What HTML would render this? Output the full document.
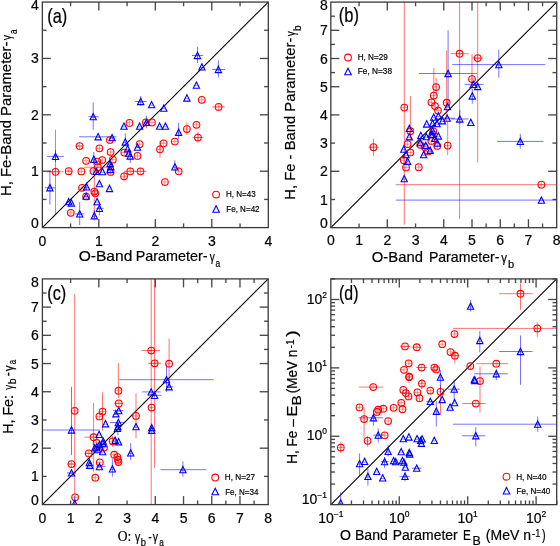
<!DOCTYPE html>
<html><head><meta charset="utf-8"><style>
html,body{margin:0;padding:0;background:#fff;}
body{width:560px;height:546px;overflow:hidden;}
svg{display:block;will-change:transform;}
svg{font-family:"Liberation Sans", sans-serif;}
text{fill:#000;stroke:#000;stroke-width:0.2px;}
.tk{font-size:14px;}
.ti{font-size:14.2px;}
.sub{font-size:10px;}
.sup{font-size:8.5px;}
.lg{font-size:9px;letter-spacing:-0.3px;fill:#222;}
.pl{font-size:19px;}
</style></head><body>
<svg width="560" height="546" viewBox="0 0 560 546">
<rect width="560" height="546" fill="#fff"/>
<line x1="42.35" y1="227.6" x2="268.3" y2="2.05" stroke="#000" stroke-width="1.05"/>
<line x1="330.85" y1="227.7" x2="556.7" y2="2.1" stroke="#000" stroke-width="1.05"/>
<line x1="42.4" y1="504.6" x2="268.2" y2="278.9" stroke="#000" stroke-width="1.05"/>
<line x1="330.85" y1="504.65" x2="556.7" y2="278.9" stroke="#000" stroke-width="1.05"/>
<line x1="70.59" y1="227.6" x2="70.59" y2="223.4" stroke="#4a4a4a" stroke-width="1.35"/>
<line x1="70.59" y1="2.05" x2="70.59" y2="6.25" stroke="#4a4a4a" stroke-width="1.35"/>
<line x1="42.35" y1="199.41" x2="46.55" y2="199.41" stroke="#4a4a4a" stroke-width="1.35"/>
<line x1="268.3" y1="199.41" x2="264.1" y2="199.41" stroke="#4a4a4a" stroke-width="1.35"/>
<line x1="98.84" y1="227.6" x2="98.84" y2="219.1" stroke="#4a4a4a" stroke-width="1.35"/>
<line x1="98.84" y1="2.05" x2="98.84" y2="10.55" stroke="#4a4a4a" stroke-width="1.35"/>
<line x1="42.35" y1="171.21" x2="50.85" y2="171.21" stroke="#4a4a4a" stroke-width="1.35"/>
<line x1="268.3" y1="171.21" x2="259.8" y2="171.21" stroke="#4a4a4a" stroke-width="1.35"/>
<line x1="127.08" y1="227.6" x2="127.08" y2="223.4" stroke="#4a4a4a" stroke-width="1.35"/>
<line x1="127.08" y1="2.05" x2="127.08" y2="6.25" stroke="#4a4a4a" stroke-width="1.35"/>
<line x1="42.35" y1="143.02" x2="46.55" y2="143.02" stroke="#4a4a4a" stroke-width="1.35"/>
<line x1="268.3" y1="143.02" x2="264.1" y2="143.02" stroke="#4a4a4a" stroke-width="1.35"/>
<line x1="155.33" y1="227.6" x2="155.33" y2="219.1" stroke="#4a4a4a" stroke-width="1.35"/>
<line x1="155.33" y1="2.05" x2="155.33" y2="10.55" stroke="#4a4a4a" stroke-width="1.35"/>
<line x1="42.35" y1="114.83" x2="50.85" y2="114.83" stroke="#4a4a4a" stroke-width="1.35"/>
<line x1="268.3" y1="114.83" x2="259.8" y2="114.83" stroke="#4a4a4a" stroke-width="1.35"/>
<line x1="183.57" y1="227.6" x2="183.57" y2="223.4" stroke="#4a4a4a" stroke-width="1.35"/>
<line x1="183.57" y1="2.05" x2="183.57" y2="6.25" stroke="#4a4a4a" stroke-width="1.35"/>
<line x1="42.35" y1="86.63" x2="46.55" y2="86.63" stroke="#4a4a4a" stroke-width="1.35"/>
<line x1="268.3" y1="86.63" x2="264.1" y2="86.63" stroke="#4a4a4a" stroke-width="1.35"/>
<line x1="211.81" y1="227.6" x2="211.81" y2="219.1" stroke="#4a4a4a" stroke-width="1.35"/>
<line x1="211.81" y1="2.05" x2="211.81" y2="10.55" stroke="#4a4a4a" stroke-width="1.35"/>
<line x1="42.35" y1="58.44" x2="50.85" y2="58.44" stroke="#4a4a4a" stroke-width="1.35"/>
<line x1="268.3" y1="58.44" x2="259.8" y2="58.44" stroke="#4a4a4a" stroke-width="1.35"/>
<line x1="240.06" y1="227.6" x2="240.06" y2="223.4" stroke="#4a4a4a" stroke-width="1.35"/>
<line x1="240.06" y1="2.05" x2="240.06" y2="6.25" stroke="#4a4a4a" stroke-width="1.35"/>
<line x1="42.35" y1="30.24" x2="46.55" y2="30.24" stroke="#4a4a4a" stroke-width="1.35"/>
<line x1="268.3" y1="30.24" x2="264.1" y2="30.24" stroke="#4a4a4a" stroke-width="1.35"/>
<line x1="359.08" y1="227.7" x2="359.08" y2="223.5" stroke="#4a4a4a" stroke-width="1.35"/>
<line x1="359.08" y1="2.1" x2="359.08" y2="6.3" stroke="#4a4a4a" stroke-width="1.35"/>
<line x1="330.85" y1="199.5" x2="335.05" y2="199.5" stroke="#4a4a4a" stroke-width="1.35"/>
<line x1="556.7" y1="199.5" x2="552.5" y2="199.5" stroke="#4a4a4a" stroke-width="1.35"/>
<line x1="387.31" y1="227.7" x2="387.31" y2="219.2" stroke="#4a4a4a" stroke-width="1.35"/>
<line x1="387.31" y1="2.1" x2="387.31" y2="10.6" stroke="#4a4a4a" stroke-width="1.35"/>
<line x1="330.85" y1="171.3" x2="339.35" y2="171.3" stroke="#4a4a4a" stroke-width="1.35"/>
<line x1="556.7" y1="171.3" x2="548.2" y2="171.3" stroke="#4a4a4a" stroke-width="1.35"/>
<line x1="415.54" y1="227.7" x2="415.54" y2="223.5" stroke="#4a4a4a" stroke-width="1.35"/>
<line x1="415.54" y1="2.1" x2="415.54" y2="6.3" stroke="#4a4a4a" stroke-width="1.35"/>
<line x1="330.85" y1="143.1" x2="335.05" y2="143.1" stroke="#4a4a4a" stroke-width="1.35"/>
<line x1="556.7" y1="143.1" x2="552.5" y2="143.1" stroke="#4a4a4a" stroke-width="1.35"/>
<line x1="443.78" y1="227.7" x2="443.78" y2="219.2" stroke="#4a4a4a" stroke-width="1.35"/>
<line x1="443.78" y1="2.1" x2="443.78" y2="10.6" stroke="#4a4a4a" stroke-width="1.35"/>
<line x1="330.85" y1="114.9" x2="339.35" y2="114.9" stroke="#4a4a4a" stroke-width="1.35"/>
<line x1="556.7" y1="114.9" x2="548.2" y2="114.9" stroke="#4a4a4a" stroke-width="1.35"/>
<line x1="472.01" y1="227.7" x2="472.01" y2="219.2" stroke="#4a4a4a" stroke-width="1.35"/>
<line x1="472.01" y1="2.1" x2="472.01" y2="10.6" stroke="#4a4a4a" stroke-width="1.35"/>
<line x1="330.85" y1="86.7" x2="339.35" y2="86.7" stroke="#4a4a4a" stroke-width="1.35"/>
<line x1="556.7" y1="86.7" x2="548.2" y2="86.7" stroke="#4a4a4a" stroke-width="1.35"/>
<line x1="486.12" y1="227.7" x2="486.12" y2="223.5" stroke="#4a4a4a" stroke-width="1.35"/>
<line x1="486.12" y1="2.1" x2="486.12" y2="6.3" stroke="#4a4a4a" stroke-width="1.35"/>
<line x1="330.85" y1="72.6" x2="335.05" y2="72.6" stroke="#4a4a4a" stroke-width="1.35"/>
<line x1="556.7" y1="72.6" x2="552.5" y2="72.6" stroke="#4a4a4a" stroke-width="1.35"/>
<line x1="500.24" y1="227.7" x2="500.24" y2="219.2" stroke="#4a4a4a" stroke-width="1.35"/>
<line x1="500.24" y1="2.1" x2="500.24" y2="10.6" stroke="#4a4a4a" stroke-width="1.35"/>
<line x1="330.85" y1="58.5" x2="339.35" y2="58.5" stroke="#4a4a4a" stroke-width="1.35"/>
<line x1="556.7" y1="58.5" x2="548.2" y2="58.5" stroke="#4a4a4a" stroke-width="1.35"/>
<line x1="514.35" y1="227.7" x2="514.35" y2="223.5" stroke="#4a4a4a" stroke-width="1.35"/>
<line x1="514.35" y1="2.1" x2="514.35" y2="6.3" stroke="#4a4a4a" stroke-width="1.35"/>
<line x1="330.85" y1="44.4" x2="335.05" y2="44.4" stroke="#4a4a4a" stroke-width="1.35"/>
<line x1="556.7" y1="44.4" x2="552.5" y2="44.4" stroke="#4a4a4a" stroke-width="1.35"/>
<line x1="528.47" y1="227.7" x2="528.47" y2="219.2" stroke="#4a4a4a" stroke-width="1.35"/>
<line x1="528.47" y1="2.1" x2="528.47" y2="10.6" stroke="#4a4a4a" stroke-width="1.35"/>
<line x1="330.85" y1="30.3" x2="339.35" y2="30.3" stroke="#4a4a4a" stroke-width="1.35"/>
<line x1="556.7" y1="30.3" x2="548.2" y2="30.3" stroke="#4a4a4a" stroke-width="1.35"/>
<line x1="542.58" y1="227.7" x2="542.58" y2="223.5" stroke="#4a4a4a" stroke-width="1.35"/>
<line x1="542.58" y1="2.1" x2="542.58" y2="6.3" stroke="#4a4a4a" stroke-width="1.35"/>
<line x1="330.85" y1="16.2" x2="335.05" y2="16.2" stroke="#4a4a4a" stroke-width="1.35"/>
<line x1="556.7" y1="16.2" x2="552.5" y2="16.2" stroke="#4a4a4a" stroke-width="1.35"/>
<line x1="70.62" y1="504.6" x2="70.62" y2="500.4" stroke="#4a4a4a" stroke-width="1.35"/>
<line x1="70.62" y1="278.9" x2="70.62" y2="283.1" stroke="#4a4a4a" stroke-width="1.35"/>
<line x1="42.4" y1="476.39" x2="46.6" y2="476.39" stroke="#4a4a4a" stroke-width="1.35"/>
<line x1="268.2" y1="476.39" x2="264" y2="476.39" stroke="#4a4a4a" stroke-width="1.35"/>
<line x1="98.85" y1="504.6" x2="98.85" y2="496.1" stroke="#4a4a4a" stroke-width="1.35"/>
<line x1="98.85" y1="278.9" x2="98.85" y2="287.4" stroke="#4a4a4a" stroke-width="1.35"/>
<line x1="42.4" y1="448.18" x2="50.9" y2="448.18" stroke="#4a4a4a" stroke-width="1.35"/>
<line x1="268.2" y1="448.18" x2="259.7" y2="448.18" stroke="#4a4a4a" stroke-width="1.35"/>
<line x1="127.07" y1="504.6" x2="127.07" y2="500.4" stroke="#4a4a4a" stroke-width="1.35"/>
<line x1="127.07" y1="278.9" x2="127.07" y2="283.1" stroke="#4a4a4a" stroke-width="1.35"/>
<line x1="42.4" y1="419.96" x2="46.6" y2="419.96" stroke="#4a4a4a" stroke-width="1.35"/>
<line x1="268.2" y1="419.96" x2="264" y2="419.96" stroke="#4a4a4a" stroke-width="1.35"/>
<line x1="155.3" y1="504.6" x2="155.3" y2="496.1" stroke="#4a4a4a" stroke-width="1.35"/>
<line x1="155.3" y1="278.9" x2="155.3" y2="287.4" stroke="#4a4a4a" stroke-width="1.35"/>
<line x1="42.4" y1="391.75" x2="50.9" y2="391.75" stroke="#4a4a4a" stroke-width="1.35"/>
<line x1="268.2" y1="391.75" x2="259.7" y2="391.75" stroke="#4a4a4a" stroke-width="1.35"/>
<line x1="183.53" y1="504.6" x2="183.53" y2="496.1" stroke="#4a4a4a" stroke-width="1.35"/>
<line x1="183.53" y1="278.9" x2="183.53" y2="287.4" stroke="#4a4a4a" stroke-width="1.35"/>
<line x1="42.4" y1="363.54" x2="50.9" y2="363.54" stroke="#4a4a4a" stroke-width="1.35"/>
<line x1="268.2" y1="363.54" x2="259.7" y2="363.54" stroke="#4a4a4a" stroke-width="1.35"/>
<line x1="197.64" y1="504.6" x2="197.64" y2="500.4" stroke="#4a4a4a" stroke-width="1.35"/>
<line x1="197.64" y1="278.9" x2="197.64" y2="283.1" stroke="#4a4a4a" stroke-width="1.35"/>
<line x1="42.4" y1="349.43" x2="46.6" y2="349.43" stroke="#4a4a4a" stroke-width="1.35"/>
<line x1="268.2" y1="349.43" x2="264" y2="349.43" stroke="#4a4a4a" stroke-width="1.35"/>
<line x1="211.75" y1="504.6" x2="211.75" y2="496.1" stroke="#4a4a4a" stroke-width="1.35"/>
<line x1="211.75" y1="278.9" x2="211.75" y2="287.4" stroke="#4a4a4a" stroke-width="1.35"/>
<line x1="42.4" y1="335.32" x2="50.9" y2="335.32" stroke="#4a4a4a" stroke-width="1.35"/>
<line x1="268.2" y1="335.32" x2="259.7" y2="335.32" stroke="#4a4a4a" stroke-width="1.35"/>
<line x1="225.86" y1="504.6" x2="225.86" y2="500.4" stroke="#4a4a4a" stroke-width="1.35"/>
<line x1="225.86" y1="278.9" x2="225.86" y2="283.1" stroke="#4a4a4a" stroke-width="1.35"/>
<line x1="42.4" y1="321.22" x2="46.6" y2="321.22" stroke="#4a4a4a" stroke-width="1.35"/>
<line x1="268.2" y1="321.22" x2="264" y2="321.22" stroke="#4a4a4a" stroke-width="1.35"/>
<line x1="239.97" y1="504.6" x2="239.97" y2="496.1" stroke="#4a4a4a" stroke-width="1.35"/>
<line x1="239.97" y1="278.9" x2="239.97" y2="287.4" stroke="#4a4a4a" stroke-width="1.35"/>
<line x1="42.4" y1="307.11" x2="50.9" y2="307.11" stroke="#4a4a4a" stroke-width="1.35"/>
<line x1="268.2" y1="307.11" x2="259.7" y2="307.11" stroke="#4a4a4a" stroke-width="1.35"/>
<line x1="254.09" y1="504.6" x2="254.09" y2="500.4" stroke="#4a4a4a" stroke-width="1.35"/>
<line x1="254.09" y1="278.9" x2="254.09" y2="283.1" stroke="#4a4a4a" stroke-width="1.35"/>
<line x1="42.4" y1="293.01" x2="46.6" y2="293.01" stroke="#4a4a4a" stroke-width="1.35"/>
<line x1="268.2" y1="293.01" x2="264" y2="293.01" stroke="#4a4a4a" stroke-width="1.35"/>
<line x1="351.45" y1="504.65" x2="351.45" y2="500.45" stroke="#4a4a4a" stroke-width="1.35"/>
<line x1="351.45" y1="278.9" x2="351.45" y2="283.1" stroke="#4a4a4a" stroke-width="1.35"/>
<line x1="330.85" y1="484.06" x2="335.05" y2="484.06" stroke="#4a4a4a" stroke-width="1.35"/>
<line x1="556.7" y1="484.06" x2="552.5" y2="484.06" stroke="#4a4a4a" stroke-width="1.35"/>
<line x1="363.49" y1="504.65" x2="363.49" y2="500.45" stroke="#4a4a4a" stroke-width="1.35"/>
<line x1="363.49" y1="278.9" x2="363.49" y2="283.1" stroke="#4a4a4a" stroke-width="1.35"/>
<line x1="330.85" y1="472.02" x2="335.05" y2="472.02" stroke="#4a4a4a" stroke-width="1.35"/>
<line x1="556.7" y1="472.02" x2="552.5" y2="472.02" stroke="#4a4a4a" stroke-width="1.35"/>
<line x1="372.04" y1="504.65" x2="372.04" y2="500.45" stroke="#4a4a4a" stroke-width="1.35"/>
<line x1="372.04" y1="278.9" x2="372.04" y2="283.1" stroke="#4a4a4a" stroke-width="1.35"/>
<line x1="330.85" y1="463.48" x2="335.05" y2="463.48" stroke="#4a4a4a" stroke-width="1.35"/>
<line x1="556.7" y1="463.48" x2="552.5" y2="463.48" stroke="#4a4a4a" stroke-width="1.35"/>
<line x1="378.67" y1="504.65" x2="378.67" y2="500.45" stroke="#4a4a4a" stroke-width="1.35"/>
<line x1="378.67" y1="278.9" x2="378.67" y2="283.1" stroke="#4a4a4a" stroke-width="1.35"/>
<line x1="330.85" y1="456.85" x2="335.05" y2="456.85" stroke="#4a4a4a" stroke-width="1.35"/>
<line x1="556.7" y1="456.85" x2="552.5" y2="456.85" stroke="#4a4a4a" stroke-width="1.35"/>
<line x1="384.09" y1="504.65" x2="384.09" y2="500.45" stroke="#4a4a4a" stroke-width="1.35"/>
<line x1="384.09" y1="278.9" x2="384.09" y2="283.1" stroke="#4a4a4a" stroke-width="1.35"/>
<line x1="330.85" y1="451.43" x2="335.05" y2="451.43" stroke="#4a4a4a" stroke-width="1.35"/>
<line x1="556.7" y1="451.43" x2="552.5" y2="451.43" stroke="#4a4a4a" stroke-width="1.35"/>
<line x1="388.67" y1="504.65" x2="388.67" y2="500.45" stroke="#4a4a4a" stroke-width="1.35"/>
<line x1="388.67" y1="278.9" x2="388.67" y2="283.1" stroke="#4a4a4a" stroke-width="1.35"/>
<line x1="330.85" y1="446.86" x2="335.05" y2="446.86" stroke="#4a4a4a" stroke-width="1.35"/>
<line x1="556.7" y1="446.86" x2="552.5" y2="446.86" stroke="#4a4a4a" stroke-width="1.35"/>
<line x1="392.64" y1="504.65" x2="392.64" y2="500.45" stroke="#4a4a4a" stroke-width="1.35"/>
<line x1="392.64" y1="278.9" x2="392.64" y2="283.1" stroke="#4a4a4a" stroke-width="1.35"/>
<line x1="330.85" y1="442.89" x2="335.05" y2="442.89" stroke="#4a4a4a" stroke-width="1.35"/>
<line x1="556.7" y1="442.89" x2="552.5" y2="442.89" stroke="#4a4a4a" stroke-width="1.35"/>
<line x1="396.14" y1="504.65" x2="396.14" y2="500.45" stroke="#4a4a4a" stroke-width="1.35"/>
<line x1="396.14" y1="278.9" x2="396.14" y2="283.1" stroke="#4a4a4a" stroke-width="1.35"/>
<line x1="330.85" y1="439.39" x2="335.05" y2="439.39" stroke="#4a4a4a" stroke-width="1.35"/>
<line x1="556.7" y1="439.39" x2="552.5" y2="439.39" stroke="#4a4a4a" stroke-width="1.35"/>
<line x1="399.27" y1="504.65" x2="399.27" y2="496.15" stroke="#4a4a4a" stroke-width="1.35"/>
<line x1="399.27" y1="278.9" x2="399.27" y2="287.4" stroke="#4a4a4a" stroke-width="1.35"/>
<line x1="330.85" y1="436.26" x2="339.35" y2="436.26" stroke="#4a4a4a" stroke-width="1.35"/>
<line x1="556.7" y1="436.26" x2="548.2" y2="436.26" stroke="#4a4a4a" stroke-width="1.35"/>
<line x1="419.86" y1="504.65" x2="419.86" y2="500.45" stroke="#4a4a4a" stroke-width="1.35"/>
<line x1="419.86" y1="278.9" x2="419.86" y2="283.1" stroke="#4a4a4a" stroke-width="1.35"/>
<line x1="330.85" y1="415.68" x2="335.05" y2="415.68" stroke="#4a4a4a" stroke-width="1.35"/>
<line x1="556.7" y1="415.68" x2="552.5" y2="415.68" stroke="#4a4a4a" stroke-width="1.35"/>
<line x1="431.91" y1="504.65" x2="431.91" y2="500.45" stroke="#4a4a4a" stroke-width="1.35"/>
<line x1="431.91" y1="278.9" x2="431.91" y2="283.1" stroke="#4a4a4a" stroke-width="1.35"/>
<line x1="330.85" y1="403.63" x2="335.05" y2="403.63" stroke="#4a4a4a" stroke-width="1.35"/>
<line x1="556.7" y1="403.63" x2="552.5" y2="403.63" stroke="#4a4a4a" stroke-width="1.35"/>
<line x1="440.46" y1="504.65" x2="440.46" y2="500.45" stroke="#4a4a4a" stroke-width="1.35"/>
<line x1="440.46" y1="278.9" x2="440.46" y2="283.1" stroke="#4a4a4a" stroke-width="1.35"/>
<line x1="330.85" y1="395.09" x2="335.05" y2="395.09" stroke="#4a4a4a" stroke-width="1.35"/>
<line x1="556.7" y1="395.09" x2="552.5" y2="395.09" stroke="#4a4a4a" stroke-width="1.35"/>
<line x1="447.09" y1="504.65" x2="447.09" y2="500.45" stroke="#4a4a4a" stroke-width="1.35"/>
<line x1="447.09" y1="278.9" x2="447.09" y2="283.1" stroke="#4a4a4a" stroke-width="1.35"/>
<line x1="330.85" y1="388.46" x2="335.05" y2="388.46" stroke="#4a4a4a" stroke-width="1.35"/>
<line x1="556.7" y1="388.46" x2="552.5" y2="388.46" stroke="#4a4a4a" stroke-width="1.35"/>
<line x1="452.51" y1="504.65" x2="452.51" y2="500.45" stroke="#4a4a4a" stroke-width="1.35"/>
<line x1="452.51" y1="278.9" x2="452.51" y2="283.1" stroke="#4a4a4a" stroke-width="1.35"/>
<line x1="330.85" y1="383.05" x2="335.05" y2="383.05" stroke="#4a4a4a" stroke-width="1.35"/>
<line x1="556.7" y1="383.05" x2="552.5" y2="383.05" stroke="#4a4a4a" stroke-width="1.35"/>
<line x1="457.09" y1="504.65" x2="457.09" y2="500.45" stroke="#4a4a4a" stroke-width="1.35"/>
<line x1="457.09" y1="278.9" x2="457.09" y2="283.1" stroke="#4a4a4a" stroke-width="1.35"/>
<line x1="330.85" y1="378.47" x2="335.05" y2="378.47" stroke="#4a4a4a" stroke-width="1.35"/>
<line x1="556.7" y1="378.47" x2="552.5" y2="378.47" stroke="#4a4a4a" stroke-width="1.35"/>
<line x1="461.06" y1="504.65" x2="461.06" y2="500.45" stroke="#4a4a4a" stroke-width="1.35"/>
<line x1="461.06" y1="278.9" x2="461.06" y2="283.1" stroke="#4a4a4a" stroke-width="1.35"/>
<line x1="330.85" y1="374.5" x2="335.05" y2="374.5" stroke="#4a4a4a" stroke-width="1.35"/>
<line x1="556.7" y1="374.5" x2="552.5" y2="374.5" stroke="#4a4a4a" stroke-width="1.35"/>
<line x1="464.56" y1="504.65" x2="464.56" y2="500.45" stroke="#4a4a4a" stroke-width="1.35"/>
<line x1="464.56" y1="278.9" x2="464.56" y2="283.1" stroke="#4a4a4a" stroke-width="1.35"/>
<line x1="330.85" y1="371" x2="335.05" y2="371" stroke="#4a4a4a" stroke-width="1.35"/>
<line x1="556.7" y1="371" x2="552.5" y2="371" stroke="#4a4a4a" stroke-width="1.35"/>
<line x1="467.69" y1="504.65" x2="467.69" y2="496.15" stroke="#4a4a4a" stroke-width="1.35"/>
<line x1="467.69" y1="278.9" x2="467.69" y2="287.4" stroke="#4a4a4a" stroke-width="1.35"/>
<line x1="330.85" y1="367.87" x2="339.35" y2="367.87" stroke="#4a4a4a" stroke-width="1.35"/>
<line x1="556.7" y1="367.87" x2="548.2" y2="367.87" stroke="#4a4a4a" stroke-width="1.35"/>
<line x1="488.28" y1="504.65" x2="488.28" y2="500.45" stroke="#4a4a4a" stroke-width="1.35"/>
<line x1="488.28" y1="278.9" x2="488.28" y2="283.1" stroke="#4a4a4a" stroke-width="1.35"/>
<line x1="330.85" y1="347.29" x2="335.05" y2="347.29" stroke="#4a4a4a" stroke-width="1.35"/>
<line x1="556.7" y1="347.29" x2="552.5" y2="347.29" stroke="#4a4a4a" stroke-width="1.35"/>
<line x1="500.33" y1="504.65" x2="500.33" y2="500.45" stroke="#4a4a4a" stroke-width="1.35"/>
<line x1="500.33" y1="278.9" x2="500.33" y2="283.1" stroke="#4a4a4a" stroke-width="1.35"/>
<line x1="330.85" y1="335.25" x2="335.05" y2="335.25" stroke="#4a4a4a" stroke-width="1.35"/>
<line x1="556.7" y1="335.25" x2="552.5" y2="335.25" stroke="#4a4a4a" stroke-width="1.35"/>
<line x1="508.88" y1="504.65" x2="508.88" y2="500.45" stroke="#4a4a4a" stroke-width="1.35"/>
<line x1="508.88" y1="278.9" x2="508.88" y2="283.1" stroke="#4a4a4a" stroke-width="1.35"/>
<line x1="330.85" y1="326.7" x2="335.05" y2="326.7" stroke="#4a4a4a" stroke-width="1.35"/>
<line x1="556.7" y1="326.7" x2="552.5" y2="326.7" stroke="#4a4a4a" stroke-width="1.35"/>
<line x1="515.51" y1="504.65" x2="515.51" y2="500.45" stroke="#4a4a4a" stroke-width="1.35"/>
<line x1="515.51" y1="278.9" x2="515.51" y2="283.1" stroke="#4a4a4a" stroke-width="1.35"/>
<line x1="330.85" y1="320.07" x2="335.05" y2="320.07" stroke="#4a4a4a" stroke-width="1.35"/>
<line x1="556.7" y1="320.07" x2="552.5" y2="320.07" stroke="#4a4a4a" stroke-width="1.35"/>
<line x1="520.93" y1="504.65" x2="520.93" y2="500.45" stroke="#4a4a4a" stroke-width="1.35"/>
<line x1="520.93" y1="278.9" x2="520.93" y2="283.1" stroke="#4a4a4a" stroke-width="1.35"/>
<line x1="330.85" y1="314.66" x2="335.05" y2="314.66" stroke="#4a4a4a" stroke-width="1.35"/>
<line x1="556.7" y1="314.66" x2="552.5" y2="314.66" stroke="#4a4a4a" stroke-width="1.35"/>
<line x1="525.51" y1="504.65" x2="525.51" y2="500.45" stroke="#4a4a4a" stroke-width="1.35"/>
<line x1="525.51" y1="278.9" x2="525.51" y2="283.1" stroke="#4a4a4a" stroke-width="1.35"/>
<line x1="330.85" y1="310.08" x2="335.05" y2="310.08" stroke="#4a4a4a" stroke-width="1.35"/>
<line x1="556.7" y1="310.08" x2="552.5" y2="310.08" stroke="#4a4a4a" stroke-width="1.35"/>
<line x1="529.47" y1="504.65" x2="529.47" y2="500.45" stroke="#4a4a4a" stroke-width="1.35"/>
<line x1="529.47" y1="278.9" x2="529.47" y2="283.1" stroke="#4a4a4a" stroke-width="1.35"/>
<line x1="330.85" y1="306.11" x2="335.05" y2="306.11" stroke="#4a4a4a" stroke-width="1.35"/>
<line x1="556.7" y1="306.11" x2="552.5" y2="306.11" stroke="#4a4a4a" stroke-width="1.35"/>
<line x1="532.97" y1="504.65" x2="532.97" y2="500.45" stroke="#4a4a4a" stroke-width="1.35"/>
<line x1="532.97" y1="278.9" x2="532.97" y2="283.1" stroke="#4a4a4a" stroke-width="1.35"/>
<line x1="330.85" y1="302.62" x2="335.05" y2="302.62" stroke="#4a4a4a" stroke-width="1.35"/>
<line x1="556.7" y1="302.62" x2="552.5" y2="302.62" stroke="#4a4a4a" stroke-width="1.35"/>
<line x1="536.1" y1="504.65" x2="536.1" y2="496.15" stroke="#4a4a4a" stroke-width="1.35"/>
<line x1="536.1" y1="278.9" x2="536.1" y2="287.4" stroke="#4a4a4a" stroke-width="1.35"/>
<line x1="330.85" y1="299.49" x2="339.35" y2="299.49" stroke="#4a4a4a" stroke-width="1.35"/>
<line x1="556.7" y1="299.49" x2="548.2" y2="299.49" stroke="#4a4a4a" stroke-width="1.35"/>
<line x1="556.7" y1="504.65" x2="556.7" y2="500.45" stroke="#4a4a4a" stroke-width="1.35"/>
<line x1="556.7" y1="278.9" x2="556.7" y2="283.1" stroke="#4a4a4a" stroke-width="1.35"/>
<line x1="330.85" y1="278.9" x2="335.05" y2="278.9" stroke="#4a4a4a" stroke-width="1.35"/>
<line x1="556.7" y1="278.9" x2="552.5" y2="278.9" stroke="#4a4a4a" stroke-width="1.35"/>
<defs>
<clipPath id="cpa"><rect x="42.35" y="2.05" width="225.95" height="225.55"/></clipPath>
<clipPath id="cpb"><rect x="330.85" y="2.1" width="225.85" height="225.6"/></clipPath>
<clipPath id="cpc"><rect x="42.4" y="278.9" width="225.8" height="225.7"/></clipPath>
<clipPath id="cpd"><rect x="330.85" y="278.9" width="225.85" height="225.75"/></clipPath>
</defs>
<g clip-path="url(#cpa)">
<line x1="47.1" y1="171.8" x2="63.8" y2="171.8" stroke="#ff0000" stroke-width="1.0" stroke-opacity="0.55"/>
<line x1="55.5" y1="129.7" x2="55.5" y2="213.9" stroke="#ff0000" stroke-width="1.0" stroke-opacity="0.55"/>
<line x1="65" y1="171.2" x2="72.5" y2="171.2" stroke="#ff0000" stroke-width="1.0" stroke-opacity="0.55"/>
<line x1="75.3" y1="146" x2="83.6" y2="146" stroke="#ff0000" stroke-width="1.0" stroke-opacity="0.55"/>
<line x1="94.3" y1="176" x2="94.3" y2="218" stroke="#ff0000" stroke-width="1.0" stroke-opacity="0.55"/>
<line x1="124" y1="171.3" x2="136" y2="171.3" stroke="#ff0000" stroke-width="1.0" stroke-opacity="0.55"/>
<line x1="134.7" y1="171.3" x2="146.3" y2="171.3" stroke="#ff0000" stroke-width="1.0" stroke-opacity="0.55"/>
<line x1="124.1" y1="171.9" x2="124.1" y2="181.2" stroke="#ff0000" stroke-width="1.0" stroke-opacity="0.55"/>
<line x1="160" y1="141" x2="160" y2="157.6" stroke="#ff0000" stroke-width="1.0" stroke-opacity="0.55"/>
<line x1="186.9" y1="122.4" x2="186.9" y2="135" stroke="#ff0000" stroke-width="1.0" stroke-opacity="0.55"/>
<line x1="192.4" y1="137.5" x2="203.4" y2="137.5" stroke="#ff0000" stroke-width="1.0" stroke-opacity="0.55"/>
<line x1="197.9" y1="132" x2="197.9" y2="142.7" stroke="#ff0000" stroke-width="1.0" stroke-opacity="0.55"/>
<line x1="212.2" y1="106.9" x2="224.8" y2="106.9" stroke="#ff0000" stroke-width="1.0" stroke-opacity="0.55"/>
<line x1="84" y1="167.2" x2="112" y2="167.2" stroke="#ff0000" stroke-width="1.0" stroke-opacity="0.55"/>
<line x1="88.5" y1="116.7" x2="98.7" y2="116.7" stroke="#0000ff" stroke-width="1.0" stroke-opacity="0.55"/>
<line x1="93.2" y1="102.6" x2="93.2" y2="129.7" stroke="#0000ff" stroke-width="1.0" stroke-opacity="0.55"/>
<line x1="79.1" y1="136.8" x2="116.5" y2="136.8" stroke="#0000ff" stroke-width="1.0" stroke-opacity="0.55"/>
<line x1="47.1" y1="156.4" x2="63.8" y2="156.4" stroke="#0000ff" stroke-width="1.0" stroke-opacity="0.55"/>
<line x1="55.5" y1="150" x2="55.5" y2="162" stroke="#0000ff" stroke-width="1.0" stroke-opacity="0.55"/>
<line x1="45" y1="187.8" x2="55.5" y2="187.8" stroke="#0000ff" stroke-width="1.0" stroke-opacity="0.55"/>
<line x1="49.9" y1="170.5" x2="49.9" y2="204.7" stroke="#0000ff" stroke-width="1.0" stroke-opacity="0.55"/>
<line x1="93.8" y1="152" x2="93.8" y2="165" stroke="#0000ff" stroke-width="1.0" stroke-opacity="0.55"/>
<line x1="86.6" y1="182.3" x2="86.6" y2="190" stroke="#0000ff" stroke-width="1.0" stroke-opacity="0.55"/>
<line x1="96.2" y1="208.4" x2="103.5" y2="208.4" stroke="#0000ff" stroke-width="1.0" stroke-opacity="0.55"/>
<line x1="99.4" y1="202.5" x2="99.4" y2="215.3" stroke="#0000ff" stroke-width="1.0" stroke-opacity="0.55"/>
<line x1="75.1" y1="213.9" x2="84.3" y2="213.9" stroke="#0000ff" stroke-width="1.0" stroke-opacity="0.55"/>
<line x1="79.7" y1="202" x2="79.7" y2="225" stroke="#0000ff" stroke-width="1.0" stroke-opacity="0.55"/>
<line x1="94.3" y1="210" x2="94.3" y2="220.3" stroke="#0000ff" stroke-width="1.0" stroke-opacity="0.55"/>
<line x1="135.2" y1="101.5" x2="146.7" y2="101.5" stroke="#0000ff" stroke-width="1.0" stroke-opacity="0.55"/>
<line x1="140.7" y1="96" x2="140.7" y2="105.9" stroke="#0000ff" stroke-width="1.0" stroke-opacity="0.55"/>
<line x1="146.4" y1="115.8" x2="146.4" y2="128.4" stroke="#0000ff" stroke-width="1.0" stroke-opacity="0.55"/>
<line x1="125.3" y1="133.4" x2="125.3" y2="146" stroke="#0000ff" stroke-width="1.0" stroke-opacity="0.55"/>
<line x1="130.3" y1="150" x2="130.3" y2="163" stroke="#0000ff" stroke-width="1.0" stroke-opacity="0.55"/>
<line x1="174.9" y1="160.3" x2="174.9" y2="170" stroke="#0000ff" stroke-width="1.0" stroke-opacity="0.55"/>
<line x1="178.6" y1="122.9" x2="178.6" y2="139.4" stroke="#0000ff" stroke-width="1.0" stroke-opacity="0.55"/>
<line x1="192" y1="55.5" x2="203" y2="55.5" stroke="#0000ff" stroke-width="1.0" stroke-opacity="0.55"/>
<line x1="197.5" y1="46.8" x2="197.5" y2="63.1" stroke="#0000ff" stroke-width="1.0" stroke-opacity="0.55"/>
<line x1="212.3" y1="69.5" x2="225" y2="69.5" stroke="#0000ff" stroke-width="1.0" stroke-opacity="0.55"/>
<line x1="218.4" y1="60.3" x2="218.4" y2="77.4" stroke="#0000ff" stroke-width="1.0" stroke-opacity="0.55"/>
<circle cx="55.5" cy="171.8" r="3.35" fill="none" stroke="#ff0000" stroke-width="1.05"/>
<line x1="52.2" y1="171.8" x2="58.8" y2="171.8" stroke="#ff0000" stroke-width="0.8" stroke-opacity="0.5"/>
<line x1="55.5" y1="168.5" x2="55.5" y2="175.1" stroke="#ff0000" stroke-width="0.8" stroke-opacity="0.5"/>
<circle cx="68.7" cy="171.2" r="3.35" fill="none" stroke="#ff0000" stroke-width="1.05"/>
<line x1="65.4" y1="171.2" x2="72" y2="171.2" stroke="#ff0000" stroke-width="0.8" stroke-opacity="0.5"/>
<line x1="68.7" y1="167.9" x2="68.7" y2="174.5" stroke="#ff0000" stroke-width="0.8" stroke-opacity="0.5"/>
<circle cx="81.4" cy="171.4" r="3.35" fill="none" stroke="#ff0000" stroke-width="1.05"/>
<line x1="78.1" y1="171.4" x2="84.7" y2="171.4" stroke="#ff0000" stroke-width="0.8" stroke-opacity="0.5"/>
<line x1="81.4" y1="168.1" x2="81.4" y2="174.7" stroke="#ff0000" stroke-width="0.8" stroke-opacity="0.5"/>
<circle cx="93.4" cy="171.1" r="3.35" fill="none" stroke="#ff0000" stroke-width="1.05"/>
<line x1="90.1" y1="171.1" x2="96.7" y2="171.1" stroke="#ff0000" stroke-width="0.8" stroke-opacity="0.5"/>
<line x1="93.4" y1="167.8" x2="93.4" y2="174.4" stroke="#ff0000" stroke-width="0.8" stroke-opacity="0.5"/>
<circle cx="79.6" cy="146" r="3.35" fill="none" stroke="#ff0000" stroke-width="1.05"/>
<line x1="76.3" y1="146" x2="82.9" y2="146" stroke="#ff0000" stroke-width="0.8" stroke-opacity="0.5"/>
<line x1="79.6" y1="142.7" x2="79.6" y2="149.3" stroke="#ff0000" stroke-width="0.8" stroke-opacity="0.5"/>
<circle cx="99.4" cy="148.3" r="3.35" fill="none" stroke="#ff0000" stroke-width="1.05"/>
<line x1="96.1" y1="148.3" x2="102.7" y2="148.3" stroke="#ff0000" stroke-width="0.8" stroke-opacity="0.5"/>
<line x1="99.4" y1="145" x2="99.4" y2="151.6" stroke="#ff0000" stroke-width="0.8" stroke-opacity="0.5"/>
<circle cx="110.6" cy="152" r="3.35" fill="none" stroke="#ff0000" stroke-width="1.05"/>
<line x1="107.3" y1="152" x2="113.9" y2="152" stroke="#ff0000" stroke-width="0.8" stroke-opacity="0.5"/>
<line x1="110.6" y1="148.7" x2="110.6" y2="155.3" stroke="#ff0000" stroke-width="0.8" stroke-opacity="0.5"/>
<circle cx="86.1" cy="160.8" r="3.35" fill="none" stroke="#ff0000" stroke-width="1.05"/>
<line x1="82.8" y1="160.8" x2="89.4" y2="160.8" stroke="#ff0000" stroke-width="0.8" stroke-opacity="0.5"/>
<line x1="86.1" y1="157.5" x2="86.1" y2="164.1" stroke="#ff0000" stroke-width="0.8" stroke-opacity="0.5"/>
<circle cx="102.2" cy="160" r="3.35" fill="none" stroke="#ff0000" stroke-width="1.05"/>
<line x1="98.9" y1="160" x2="105.5" y2="160" stroke="#ff0000" stroke-width="0.8" stroke-opacity="0.5"/>
<line x1="102.2" y1="156.7" x2="102.2" y2="163.3" stroke="#ff0000" stroke-width="0.8" stroke-opacity="0.5"/>
<circle cx="112.8" cy="159.7" r="3.35" fill="none" stroke="#ff0000" stroke-width="1.05"/>
<line x1="109.5" y1="159.7" x2="116.1" y2="159.7" stroke="#ff0000" stroke-width="0.8" stroke-opacity="0.5"/>
<line x1="112.8" y1="156.4" x2="112.8" y2="163" stroke="#ff0000" stroke-width="0.8" stroke-opacity="0.5"/>
<circle cx="110.6" cy="172" r="3.35" fill="none" stroke="#ff0000" stroke-width="1.05"/>
<line x1="107.3" y1="172" x2="113.9" y2="172" stroke="#ff0000" stroke-width="0.8" stroke-opacity="0.5"/>
<line x1="110.6" y1="168.7" x2="110.6" y2="175.3" stroke="#ff0000" stroke-width="0.8" stroke-opacity="0.5"/>
<circle cx="82" cy="187.8" r="3.35" fill="none" stroke="#ff0000" stroke-width="1.05"/>
<line x1="78.7" y1="187.8" x2="85.3" y2="187.8" stroke="#ff0000" stroke-width="0.8" stroke-opacity="0.5"/>
<line x1="82" y1="184.5" x2="82" y2="191.1" stroke="#ff0000" stroke-width="0.8" stroke-opacity="0.5"/>
<circle cx="86.1" cy="196.5" r="3.35" fill="none" stroke="#ff0000" stroke-width="1.05"/>
<line x1="82.8" y1="196.5" x2="89.4" y2="196.5" stroke="#ff0000" stroke-width="0.8" stroke-opacity="0.5"/>
<line x1="86.1" y1="193.2" x2="86.1" y2="199.8" stroke="#ff0000" stroke-width="0.8" stroke-opacity="0.5"/>
<circle cx="94.3" cy="191.5" r="3.35" fill="none" stroke="#ff0000" stroke-width="1.05"/>
<line x1="91" y1="191.5" x2="97.6" y2="191.5" stroke="#ff0000" stroke-width="0.8" stroke-opacity="0.5"/>
<line x1="94.3" y1="188.2" x2="94.3" y2="194.8" stroke="#ff0000" stroke-width="0.8" stroke-opacity="0.5"/>
<circle cx="95.3" cy="193.3" r="3.35" fill="none" stroke="#ff0000" stroke-width="1.05"/>
<line x1="92" y1="193.3" x2="98.6" y2="193.3" stroke="#ff0000" stroke-width="0.8" stroke-opacity="0.5"/>
<line x1="95.3" y1="190" x2="95.3" y2="196.6" stroke="#ff0000" stroke-width="0.8" stroke-opacity="0.5"/>
<circle cx="70.8" cy="212.8" r="3.35" fill="none" stroke="#ff0000" stroke-width="1.05"/>
<line x1="67.5" y1="212.8" x2="74.1" y2="212.8" stroke="#ff0000" stroke-width="0.8" stroke-opacity="0.5"/>
<line x1="70.8" y1="209.5" x2="70.8" y2="216.1" stroke="#ff0000" stroke-width="0.8" stroke-opacity="0.5"/>
<circle cx="109.9" cy="140" r="3.35" fill="none" stroke="#ff0000" stroke-width="1.05"/>
<line x1="106.6" y1="140" x2="113.2" y2="140" stroke="#ff0000" stroke-width="0.8" stroke-opacity="0.5"/>
<line x1="109.9" y1="136.7" x2="109.9" y2="143.3" stroke="#ff0000" stroke-width="0.8" stroke-opacity="0.5"/>
<circle cx="129.5" cy="122.9" r="3.35" fill="none" stroke="#ff0000" stroke-width="1.05"/>
<line x1="126.2" y1="122.9" x2="132.8" y2="122.9" stroke="#ff0000" stroke-width="0.8" stroke-opacity="0.5"/>
<line x1="129.5" y1="119.6" x2="129.5" y2="126.2" stroke="#ff0000" stroke-width="0.8" stroke-opacity="0.5"/>
<circle cx="145.9" cy="122.4" r="3.35" fill="none" stroke="#ff0000" stroke-width="1.05"/>
<line x1="142.6" y1="122.4" x2="149.2" y2="122.4" stroke="#ff0000" stroke-width="0.8" stroke-opacity="0.5"/>
<line x1="145.9" y1="119.1" x2="145.9" y2="125.7" stroke="#ff0000" stroke-width="0.8" stroke-opacity="0.5"/>
<circle cx="151.9" cy="122.4" r="3.35" fill="none" stroke="#ff0000" stroke-width="1.05"/>
<line x1="148.6" y1="122.4" x2="155.2" y2="122.4" stroke="#ff0000" stroke-width="0.8" stroke-opacity="0.5"/>
<line x1="151.9" y1="119.1" x2="151.9" y2="125.7" stroke="#ff0000" stroke-width="0.8" stroke-opacity="0.5"/>
<circle cx="139.6" cy="144.2" r="3.35" fill="none" stroke="#ff0000" stroke-width="1.05"/>
<line x1="136.3" y1="144.2" x2="142.9" y2="144.2" stroke="#ff0000" stroke-width="0.8" stroke-opacity="0.5"/>
<line x1="139.6" y1="140.9" x2="139.6" y2="147.5" stroke="#ff0000" stroke-width="0.8" stroke-opacity="0.5"/>
<circle cx="124.3" cy="152.6" r="3.35" fill="none" stroke="#ff0000" stroke-width="1.05"/>
<line x1="121" y1="152.6" x2="127.6" y2="152.6" stroke="#ff0000" stroke-width="0.8" stroke-opacity="0.5"/>
<line x1="124.3" y1="149.3" x2="124.3" y2="155.9" stroke="#ff0000" stroke-width="0.8" stroke-opacity="0.5"/>
<circle cx="137.5" cy="155.9" r="3.35" fill="none" stroke="#ff0000" stroke-width="1.05"/>
<line x1="134.2" y1="155.9" x2="140.8" y2="155.9" stroke="#ff0000" stroke-width="0.8" stroke-opacity="0.5"/>
<line x1="137.5" y1="152.6" x2="137.5" y2="159.2" stroke="#ff0000" stroke-width="0.8" stroke-opacity="0.5"/>
<circle cx="130.3" cy="171.3" r="3.35" fill="none" stroke="#ff0000" stroke-width="1.05"/>
<line x1="127" y1="171.3" x2="133.6" y2="171.3" stroke="#ff0000" stroke-width="0.8" stroke-opacity="0.5"/>
<line x1="130.3" y1="168" x2="130.3" y2="174.6" stroke="#ff0000" stroke-width="0.8" stroke-opacity="0.5"/>
<circle cx="140.5" cy="171.3" r="3.35" fill="none" stroke="#ff0000" stroke-width="1.05"/>
<line x1="137.2" y1="171.3" x2="143.8" y2="171.3" stroke="#ff0000" stroke-width="0.8" stroke-opacity="0.5"/>
<line x1="140.5" y1="168" x2="140.5" y2="174.6" stroke="#ff0000" stroke-width="0.8" stroke-opacity="0.5"/>
<circle cx="124.1" cy="176.3" r="3.35" fill="none" stroke="#ff0000" stroke-width="1.05"/>
<line x1="120.8" y1="176.3" x2="127.4" y2="176.3" stroke="#ff0000" stroke-width="0.8" stroke-opacity="0.5"/>
<line x1="124.1" y1="173" x2="124.1" y2="179.6" stroke="#ff0000" stroke-width="0.8" stroke-opacity="0.5"/>
<circle cx="163.6" cy="143.3" r="3.35" fill="none" stroke="#ff0000" stroke-width="1.05"/>
<line x1="160.3" y1="143.3" x2="166.9" y2="143.3" stroke="#ff0000" stroke-width="0.8" stroke-opacity="0.5"/>
<line x1="163.6" y1="140" x2="163.6" y2="146.6" stroke="#ff0000" stroke-width="0.8" stroke-opacity="0.5"/>
<circle cx="160" cy="149.3" r="3.35" fill="none" stroke="#ff0000" stroke-width="1.05"/>
<line x1="156.7" y1="149.3" x2="163.3" y2="149.3" stroke="#ff0000" stroke-width="0.8" stroke-opacity="0.5"/>
<line x1="160" y1="146" x2="160" y2="152.6" stroke="#ff0000" stroke-width="0.8" stroke-opacity="0.5"/>
<circle cx="164.9" cy="182" r="3.35" fill="none" stroke="#ff0000" stroke-width="1.05"/>
<line x1="161.6" y1="182" x2="168.2" y2="182" stroke="#ff0000" stroke-width="0.8" stroke-opacity="0.5"/>
<line x1="164.9" y1="178.7" x2="164.9" y2="185.3" stroke="#ff0000" stroke-width="0.8" stroke-opacity="0.5"/>
<circle cx="174.8" cy="141.5" r="3.35" fill="none" stroke="#ff0000" stroke-width="1.05"/>
<line x1="171.5" y1="141.5" x2="178.1" y2="141.5" stroke="#ff0000" stroke-width="0.8" stroke-opacity="0.5"/>
<line x1="174.8" y1="138.2" x2="174.8" y2="144.8" stroke="#ff0000" stroke-width="0.8" stroke-opacity="0.5"/>
<circle cx="178.7" cy="171.3" r="3.35" fill="none" stroke="#ff0000" stroke-width="1.05"/>
<line x1="175.4" y1="171.3" x2="182" y2="171.3" stroke="#ff0000" stroke-width="0.8" stroke-opacity="0.5"/>
<line x1="178.7" y1="168" x2="178.7" y2="174.6" stroke="#ff0000" stroke-width="0.8" stroke-opacity="0.5"/>
<circle cx="186.9" cy="129" r="3.35" fill="none" stroke="#ff0000" stroke-width="1.05"/>
<line x1="183.6" y1="129" x2="190.2" y2="129" stroke="#ff0000" stroke-width="0.8" stroke-opacity="0.5"/>
<line x1="186.9" y1="125.7" x2="186.9" y2="132.3" stroke="#ff0000" stroke-width="0.8" stroke-opacity="0.5"/>
<circle cx="196.5" cy="124.8" r="3.35" fill="none" stroke="#ff0000" stroke-width="1.05"/>
<line x1="193.2" y1="124.8" x2="199.8" y2="124.8" stroke="#ff0000" stroke-width="0.8" stroke-opacity="0.5"/>
<line x1="196.5" y1="121.5" x2="196.5" y2="128.1" stroke="#ff0000" stroke-width="0.8" stroke-opacity="0.5"/>
<circle cx="197.9" cy="137.5" r="3.35" fill="none" stroke="#ff0000" stroke-width="1.05"/>
<line x1="194.6" y1="137.5" x2="201.2" y2="137.5" stroke="#ff0000" stroke-width="0.8" stroke-opacity="0.5"/>
<line x1="197.9" y1="134.2" x2="197.9" y2="140.8" stroke="#ff0000" stroke-width="0.8" stroke-opacity="0.5"/>
<circle cx="201.8" cy="99.8" r="3.35" fill="none" stroke="#ff0000" stroke-width="1.05"/>
<line x1="198.5" y1="99.8" x2="205.1" y2="99.8" stroke="#ff0000" stroke-width="0.8" stroke-opacity="0.5"/>
<line x1="201.8" y1="96.5" x2="201.8" y2="103.1" stroke="#ff0000" stroke-width="0.8" stroke-opacity="0.5"/>
<circle cx="218.6" cy="106.9" r="3.35" fill="none" stroke="#ff0000" stroke-width="1.05"/>
<line x1="215.3" y1="106.9" x2="221.9" y2="106.9" stroke="#ff0000" stroke-width="0.8" stroke-opacity="0.5"/>
<line x1="218.6" y1="103.6" x2="218.6" y2="110.2" stroke="#ff0000" stroke-width="0.8" stroke-opacity="0.5"/>
<circle cx="97.8" cy="167.2" r="3.35" fill="none" stroke="#ff0000" stroke-width="1.05"/>
<line x1="94.5" y1="167.2" x2="101.1" y2="167.2" stroke="#ff0000" stroke-width="0.8" stroke-opacity="0.5"/>
<line x1="97.8" y1="163.9" x2="97.8" y2="170.5" stroke="#ff0000" stroke-width="0.8" stroke-opacity="0.5"/>
<circle cx="97.3" cy="161.5" r="3.35" fill="none" stroke="#ff0000" stroke-width="1.05"/>
<line x1="94" y1="161.5" x2="100.6" y2="161.5" stroke="#ff0000" stroke-width="0.8" stroke-opacity="0.5"/>
<line x1="97.3" y1="158.2" x2="97.3" y2="164.8" stroke="#ff0000" stroke-width="0.8" stroke-opacity="0.5"/>
<polygon points="90.05,119.8 93.2,113.5 96.35,119.8" fill="none" stroke="#0000ff" stroke-width="1.1" stroke-linejoin="miter"/>
<line x1="91" y1="117.3" x2="95.4" y2="117.3" stroke="#0000ff" stroke-width="0.8" stroke-opacity="0.5"/>
<polygon points="94.95,139.9 98.1,133.6 101.25,139.9" fill="none" stroke="#0000ff" stroke-width="1.1" stroke-linejoin="miter"/>
<line x1="95.9" y1="137.4" x2="100.3" y2="137.4" stroke="#0000ff" stroke-width="0.8" stroke-opacity="0.5"/>
<polygon points="108.95,140.8 112.1,134.5 115.25,140.8" fill="none" stroke="#0000ff" stroke-width="1.1" stroke-linejoin="miter"/>
<line x1="109.9" y1="138.3" x2="114.3" y2="138.3" stroke="#0000ff" stroke-width="0.8" stroke-opacity="0.5"/>
<polygon points="52.35,159.5 55.5,153.2 58.65,159.5" fill="none" stroke="#0000ff" stroke-width="1.1" stroke-linejoin="miter"/>
<line x1="53.3" y1="157" x2="57.7" y2="157" stroke="#0000ff" stroke-width="0.8" stroke-opacity="0.5"/>
<polygon points="46.75,190.9 49.9,184.6 53.05,190.9" fill="none" stroke="#0000ff" stroke-width="1.1" stroke-linejoin="miter"/>
<line x1="47.7" y1="188.4" x2="52.1" y2="188.4" stroke="#0000ff" stroke-width="0.8" stroke-opacity="0.5"/>
<polygon points="90.65,162.4 93.8,156.1 96.95,162.4" fill="none" stroke="#0000ff" stroke-width="1.1" stroke-linejoin="miter"/>
<line x1="91.6" y1="159.9" x2="96" y2="159.9" stroke="#0000ff" stroke-width="0.8" stroke-opacity="0.5"/>
<polygon points="107.05,166.6 110.2,160.3 113.35,166.6" fill="none" stroke="#0000ff" stroke-width="1.1" stroke-linejoin="miter"/>
<line x1="108" y1="164.1" x2="112.4" y2="164.1" stroke="#0000ff" stroke-width="0.8" stroke-opacity="0.5"/>
<polygon points="107.65,169.6 110.8,163.3 113.95,169.6" fill="none" stroke="#0000ff" stroke-width="1.1" stroke-linejoin="miter"/>
<line x1="108.6" y1="167.1" x2="113" y2="167.1" stroke="#0000ff" stroke-width="0.8" stroke-opacity="0.5"/>
<polygon points="93.15,174.5 96.3,168.2 99.45,174.5" fill="none" stroke="#0000ff" stroke-width="1.1" stroke-linejoin="miter"/>
<line x1="94.1" y1="172" x2="98.5" y2="172" stroke="#0000ff" stroke-width="0.8" stroke-opacity="0.5"/>
<polygon points="99.35,174.8 102.5,168.5 105.65,174.8" fill="none" stroke="#0000ff" stroke-width="1.1" stroke-linejoin="miter"/>
<line x1="100.3" y1="172.3" x2="104.7" y2="172.3" stroke="#0000ff" stroke-width="0.8" stroke-opacity="0.5"/>
<polygon points="107.05,172.6 110.2,166.3 113.35,172.6" fill="none" stroke="#0000ff" stroke-width="1.1" stroke-linejoin="miter"/>
<line x1="108" y1="170.1" x2="112.4" y2="170.1" stroke="#0000ff" stroke-width="0.8" stroke-opacity="0.5"/>
<polygon points="96.25,186.8 99.4,180.5 102.55,186.8" fill="none" stroke="#0000ff" stroke-width="1.1" stroke-linejoin="miter"/>
<line x1="97.2" y1="184.3" x2="101.6" y2="184.3" stroke="#0000ff" stroke-width="0.8" stroke-opacity="0.5"/>
<polygon points="83.45,190 86.6,183.7 89.75,190" fill="none" stroke="#0000ff" stroke-width="1.1" stroke-linejoin="miter"/>
<line x1="84.4" y1="187.5" x2="88.8" y2="187.5" stroke="#0000ff" stroke-width="0.8" stroke-opacity="0.5"/>
<polygon points="82.95,199.2 86.1,192.9 89.25,199.2" fill="none" stroke="#0000ff" stroke-width="1.1" stroke-linejoin="miter"/>
<line x1="83.9" y1="196.7" x2="88.3" y2="196.7" stroke="#0000ff" stroke-width="0.8" stroke-opacity="0.5"/>
<polygon points="65.55,204.7 68.7,198.4 71.85,204.7" fill="none" stroke="#0000ff" stroke-width="1.1" stroke-linejoin="miter"/>
<line x1="66.5" y1="202.2" x2="70.9" y2="202.2" stroke="#0000ff" stroke-width="0.8" stroke-opacity="0.5"/>
<polygon points="68.25,206.1 71.4,199.8 74.55,206.1" fill="none" stroke="#0000ff" stroke-width="1.1" stroke-linejoin="miter"/>
<line x1="69.2" y1="203.6" x2="73.6" y2="203.6" stroke="#0000ff" stroke-width="0.8" stroke-opacity="0.5"/>
<polygon points="93.95,204.7 97.1,198.4 100.25,204.7" fill="none" stroke="#0000ff" stroke-width="1.1" stroke-linejoin="miter"/>
<line x1="94.9" y1="202.2" x2="99.3" y2="202.2" stroke="#0000ff" stroke-width="0.8" stroke-opacity="0.5"/>
<polygon points="96.25,211.5 99.4,205.2 102.55,211.5" fill="none" stroke="#0000ff" stroke-width="1.1" stroke-linejoin="miter"/>
<line x1="97.2" y1="209" x2="101.6" y2="209" stroke="#0000ff" stroke-width="0.8" stroke-opacity="0.5"/>
<polygon points="76.55,217 79.7,210.7 82.85,217" fill="none" stroke="#0000ff" stroke-width="1.1" stroke-linejoin="miter"/>
<line x1="77.5" y1="214.5" x2="81.9" y2="214.5" stroke="#0000ff" stroke-width="0.8" stroke-opacity="0.5"/>
<polygon points="91.15,218.9 94.3,212.6 97.45,218.9" fill="none" stroke="#0000ff" stroke-width="1.1" stroke-linejoin="miter"/>
<line x1="92.1" y1="216.4" x2="96.5" y2="216.4" stroke="#0000ff" stroke-width="0.8" stroke-opacity="0.5"/>
<polygon points="106.35,191.6 109.5,185.3 112.65,191.6" fill="none" stroke="#0000ff" stroke-width="1.1" stroke-linejoin="miter"/>
<line x1="107.3" y1="189.1" x2="111.7" y2="189.1" stroke="#0000ff" stroke-width="0.8" stroke-opacity="0.5"/>
<polygon points="137.55,104.6 140.7,98.3 143.85,104.6" fill="none" stroke="#0000ff" stroke-width="1.1" stroke-linejoin="miter"/>
<line x1="138.5" y1="102.1" x2="142.9" y2="102.1" stroke="#0000ff" stroke-width="0.8" stroke-opacity="0.5"/>
<polygon points="148.45,107.7 151.6,101.4 154.75,107.7" fill="none" stroke="#0000ff" stroke-width="1.1" stroke-linejoin="miter"/>
<line x1="149.4" y1="105.2" x2="153.8" y2="105.2" stroke="#0000ff" stroke-width="0.8" stroke-opacity="0.5"/>
<polygon points="120.85,129.3 124,123 127.15,129.3" fill="none" stroke="#0000ff" stroke-width="1.1" stroke-linejoin="miter"/>
<line x1="121.8" y1="126.8" x2="126.2" y2="126.8" stroke="#0000ff" stroke-width="0.8" stroke-opacity="0.5"/>
<polygon points="136.45,129.3 139.6,123 142.75,129.3" fill="none" stroke="#0000ff" stroke-width="1.1" stroke-linejoin="miter"/>
<line x1="137.4" y1="126.8" x2="141.8" y2="126.8" stroke="#0000ff" stroke-width="0.8" stroke-opacity="0.5"/>
<polygon points="143.25,125.5 146.4,119.2 149.55,125.5" fill="none" stroke="#0000ff" stroke-width="1.1" stroke-linejoin="miter"/>
<line x1="144.2" y1="123" x2="148.6" y2="123" stroke="#0000ff" stroke-width="0.8" stroke-opacity="0.5"/>
<polygon points="156.45,129.3 159.6,123 162.75,129.3" fill="none" stroke="#0000ff" stroke-width="1.1" stroke-linejoin="miter"/>
<line x1="157.4" y1="126.8" x2="161.8" y2="126.8" stroke="#0000ff" stroke-width="0.8" stroke-opacity="0.5"/>
<polygon points="162.25,129.3 165.4,123 168.55,129.3" fill="none" stroke="#0000ff" stroke-width="1.1" stroke-linejoin="miter"/>
<line x1="163.2" y1="126.8" x2="167.6" y2="126.8" stroke="#0000ff" stroke-width="0.8" stroke-opacity="0.5"/>
<polygon points="160.65,111.2 163.8,104.9 166.95,111.2" fill="none" stroke="#0000ff" stroke-width="1.1" stroke-linejoin="miter"/>
<line x1="161.6" y1="108.7" x2="166" y2="108.7" stroke="#0000ff" stroke-width="0.8" stroke-opacity="0.5"/>
<polygon points="122.15,145.1 125.3,138.8 128.45,145.1" fill="none" stroke="#0000ff" stroke-width="1.1" stroke-linejoin="miter"/>
<line x1="123.1" y1="142.6" x2="127.5" y2="142.6" stroke="#0000ff" stroke-width="0.8" stroke-opacity="0.5"/>
<polygon points="134.35,150.2 137.5,143.9 140.65,150.2" fill="none" stroke="#0000ff" stroke-width="1.1" stroke-linejoin="miter"/>
<line x1="135.3" y1="147.7" x2="139.7" y2="147.7" stroke="#0000ff" stroke-width="0.8" stroke-opacity="0.5"/>
<polygon points="124.45,151.9 127.6,145.6 130.75,151.9" fill="none" stroke="#0000ff" stroke-width="1.1" stroke-linejoin="miter"/>
<line x1="125.4" y1="149.4" x2="129.8" y2="149.4" stroke="#0000ff" stroke-width="0.8" stroke-opacity="0.5"/>
<polygon points="125.55,156.3 128.7,150 131.85,156.3" fill="none" stroke="#0000ff" stroke-width="1.1" stroke-linejoin="miter"/>
<line x1="126.5" y1="153.8" x2="130.9" y2="153.8" stroke="#0000ff" stroke-width="0.8" stroke-opacity="0.5"/>
<polygon points="127.15,159.1 130.3,152.8 133.45,159.1" fill="none" stroke="#0000ff" stroke-width="1.1" stroke-linejoin="miter"/>
<line x1="128.1" y1="156.6" x2="132.5" y2="156.6" stroke="#0000ff" stroke-width="0.8" stroke-opacity="0.5"/>
<polygon points="171.75,170 174.9,163.7 178.05,170" fill="none" stroke="#0000ff" stroke-width="1.1" stroke-linejoin="miter"/>
<line x1="172.7" y1="167.5" x2="177.1" y2="167.5" stroke="#0000ff" stroke-width="0.8" stroke-opacity="0.5"/>
<polygon points="175.45,135.4 178.6,129.1 181.75,135.4" fill="none" stroke="#0000ff" stroke-width="1.1" stroke-linejoin="miter"/>
<line x1="176.4" y1="132.9" x2="180.8" y2="132.9" stroke="#0000ff" stroke-width="0.8" stroke-opacity="0.5"/>
<polygon points="183.75,101.1 186.9,94.8 190.05,101.1" fill="none" stroke="#0000ff" stroke-width="1.1" stroke-linejoin="miter"/>
<line x1="184.7" y1="98.6" x2="189.1" y2="98.6" stroke="#0000ff" stroke-width="0.8" stroke-opacity="0.5"/>
<polygon points="193.25,88.2 196.4,81.9 199.55,88.2" fill="none" stroke="#0000ff" stroke-width="1.1" stroke-linejoin="miter"/>
<line x1="194.2" y1="85.7" x2="198.6" y2="85.7" stroke="#0000ff" stroke-width="0.8" stroke-opacity="0.5"/>
<polygon points="194.35,58.6 197.5,52.3 200.65,58.6" fill="none" stroke="#0000ff" stroke-width="1.1" stroke-linejoin="miter"/>
<line x1="195.3" y1="56.1" x2="199.7" y2="56.1" stroke="#0000ff" stroke-width="0.8" stroke-opacity="0.5"/>
<polygon points="198.75,70 201.9,63.7 205.05,70" fill="none" stroke="#0000ff" stroke-width="1.1" stroke-linejoin="miter"/>
<line x1="199.7" y1="67.5" x2="204.1" y2="67.5" stroke="#0000ff" stroke-width="0.8" stroke-opacity="0.5"/>
<polygon points="215.25,72.6 218.4,66.3 221.55,72.6" fill="none" stroke="#0000ff" stroke-width="1.1" stroke-linejoin="miter"/>
<line x1="216.2" y1="70.1" x2="220.6" y2="70.1" stroke="#0000ff" stroke-width="0.8" stroke-opacity="0.5"/>
</g>
<g clip-path="url(#cpb)">
<line x1="404.3" y1="2" x2="404.3" y2="224.7" stroke="#ff0000" stroke-width="1.0" stroke-opacity="0.55"/>
<line x1="368.4" y1="147.2" x2="378.6" y2="147.2" stroke="#ff0000" stroke-width="1.0" stroke-opacity="0.55"/>
<line x1="373.5" y1="138.8" x2="373.5" y2="155.7" stroke="#ff0000" stroke-width="1.0" stroke-opacity="0.55"/>
<line x1="436.1" y1="78" x2="436.1" y2="95" stroke="#ff0000" stroke-width="1.0" stroke-opacity="0.55"/>
<line x1="433.8" y1="68" x2="433.8" y2="100" stroke="#ff0000" stroke-width="1.0" stroke-opacity="0.55"/>
<line x1="446.7" y1="50.4" x2="446.7" y2="121" stroke="#ff0000" stroke-width="1.0" stroke-opacity="0.55"/>
<line x1="450.4" y1="53.7" x2="468.6" y2="53.7" stroke="#ff0000" stroke-width="1.0" stroke-opacity="0.55"/>
<line x1="459.6" y1="2" x2="459.6" y2="218.9" stroke="#ff0000" stroke-width="1.0" stroke-opacity="0.55"/>
<line x1="472.3" y1="58.1" x2="483.3" y2="58.1" stroke="#ff0000" stroke-width="1.0" stroke-opacity="0.55"/>
<line x1="477.7" y1="2" x2="477.7" y2="162.5" stroke="#ff0000" stroke-width="1.0" stroke-opacity="0.55"/>
<line x1="472" y1="54" x2="472" y2="90" stroke="#ff0000" stroke-width="1.0" stroke-opacity="0.55"/>
<line x1="410.4" y1="96" x2="410.4" y2="140" stroke="#ff0000" stroke-width="1.0" stroke-opacity="0.55"/>
<line x1="447.7" y1="121.8" x2="447.7" y2="155.3" stroke="#ff0000" stroke-width="1.0" stroke-opacity="0.55"/>
<line x1="395.8" y1="184.7" x2="556.7" y2="184.7" stroke="#ff0000" stroke-width="1.0" stroke-opacity="0.55"/>
<line x1="440" y1="118.2" x2="455" y2="118.2" stroke="#0000ff" stroke-width="1.0" stroke-opacity="0.55"/>
<line x1="419" y1="73.5" x2="477" y2="73.5" stroke="#0000ff" stroke-width="1.0" stroke-opacity="0.55"/>
<line x1="448.1" y1="30.2" x2="448.1" y2="105" stroke="#0000ff" stroke-width="1.0" stroke-opacity="0.55"/>
<line x1="452.2" y1="64.6" x2="545.4" y2="64.6" stroke="#0000ff" stroke-width="1.0" stroke-opacity="0.55"/>
<line x1="498.8" y1="49.8" x2="498.8" y2="77.7" stroke="#0000ff" stroke-width="1.0" stroke-opacity="0.55"/>
<line x1="464.6" y1="84.4" x2="483.8" y2="84.4" stroke="#0000ff" stroke-width="1.0" stroke-opacity="0.55"/>
<line x1="472.3" y1="89.2" x2="472.3" y2="103.7" stroke="#0000ff" stroke-width="1.0" stroke-opacity="0.55"/>
<line x1="451" y1="119" x2="468.5" y2="119" stroke="#0000ff" stroke-width="1.0" stroke-opacity="0.55"/>
<line x1="459.8" y1="110" x2="459.8" y2="124" stroke="#0000ff" stroke-width="1.0" stroke-opacity="0.55"/>
<line x1="497.1" y1="141.4" x2="543.4" y2="141.4" stroke="#0000ff" stroke-width="1.0" stroke-opacity="0.55"/>
<line x1="520.3" y1="133.8" x2="520.3" y2="148.7" stroke="#0000ff" stroke-width="1.0" stroke-opacity="0.55"/>
<line x1="395.8" y1="200.1" x2="556.7" y2="200.1" stroke="#0000ff" stroke-width="1.0" stroke-opacity="0.55"/>
<circle cx="404.3" cy="107.6" r="3.35" fill="none" stroke="#ff0000" stroke-width="1.05"/>
<line x1="401" y1="107.6" x2="407.6" y2="107.6" stroke="#ff0000" stroke-width="0.8" stroke-opacity="0.5"/>
<line x1="404.3" y1="104.3" x2="404.3" y2="110.9" stroke="#ff0000" stroke-width="0.8" stroke-opacity="0.5"/>
<circle cx="373.5" cy="147.2" r="3.35" fill="none" stroke="#ff0000" stroke-width="1.05"/>
<line x1="370.2" y1="147.2" x2="376.8" y2="147.2" stroke="#ff0000" stroke-width="0.8" stroke-opacity="0.5"/>
<line x1="373.5" y1="143.9" x2="373.5" y2="150.5" stroke="#ff0000" stroke-width="0.8" stroke-opacity="0.5"/>
<circle cx="436.1" cy="87" r="3.35" fill="none" stroke="#ff0000" stroke-width="1.05"/>
<line x1="432.8" y1="87" x2="439.4" y2="87" stroke="#ff0000" stroke-width="0.8" stroke-opacity="0.5"/>
<line x1="436.1" y1="83.7" x2="436.1" y2="90.3" stroke="#ff0000" stroke-width="0.8" stroke-opacity="0.5"/>
<circle cx="433.8" cy="95.6" r="3.35" fill="none" stroke="#ff0000" stroke-width="1.05"/>
<line x1="430.5" y1="95.6" x2="437.1" y2="95.6" stroke="#ff0000" stroke-width="0.8" stroke-opacity="0.5"/>
<line x1="433.8" y1="92.3" x2="433.8" y2="98.9" stroke="#ff0000" stroke-width="0.8" stroke-opacity="0.5"/>
<circle cx="431.4" cy="102.3" r="3.35" fill="none" stroke="#ff0000" stroke-width="1.05"/>
<line x1="428.1" y1="102.3" x2="434.7" y2="102.3" stroke="#ff0000" stroke-width="0.8" stroke-opacity="0.5"/>
<line x1="431.4" y1="99" x2="431.4" y2="105.6" stroke="#ff0000" stroke-width="0.8" stroke-opacity="0.5"/>
<circle cx="435" cy="106" r="3.35" fill="none" stroke="#ff0000" stroke-width="1.05"/>
<line x1="431.7" y1="106" x2="438.3" y2="106" stroke="#ff0000" stroke-width="0.8" stroke-opacity="0.5"/>
<line x1="435" y1="102.7" x2="435" y2="109.3" stroke="#ff0000" stroke-width="0.8" stroke-opacity="0.5"/>
<circle cx="438" cy="110.6" r="3.35" fill="none" stroke="#ff0000" stroke-width="1.05"/>
<line x1="434.7" y1="110.6" x2="441.3" y2="110.6" stroke="#ff0000" stroke-width="0.8" stroke-opacity="0.5"/>
<line x1="438" y1="107.3" x2="438" y2="113.9" stroke="#ff0000" stroke-width="0.8" stroke-opacity="0.5"/>
<circle cx="446.7" cy="102.7" r="3.35" fill="none" stroke="#ff0000" stroke-width="1.05"/>
<line x1="443.4" y1="102.7" x2="450" y2="102.7" stroke="#ff0000" stroke-width="0.8" stroke-opacity="0.5"/>
<line x1="446.7" y1="99.4" x2="446.7" y2="106" stroke="#ff0000" stroke-width="0.8" stroke-opacity="0.5"/>
<circle cx="459.6" cy="53.7" r="3.35" fill="none" stroke="#ff0000" stroke-width="1.05"/>
<line x1="456.3" y1="53.7" x2="462.9" y2="53.7" stroke="#ff0000" stroke-width="0.8" stroke-opacity="0.5"/>
<line x1="459.6" y1="50.4" x2="459.6" y2="57" stroke="#ff0000" stroke-width="0.8" stroke-opacity="0.5"/>
<circle cx="477.7" cy="58.1" r="3.35" fill="none" stroke="#ff0000" stroke-width="1.05"/>
<line x1="474.4" y1="58.1" x2="481" y2="58.1" stroke="#ff0000" stroke-width="0.8" stroke-opacity="0.5"/>
<line x1="477.7" y1="54.8" x2="477.7" y2="61.4" stroke="#ff0000" stroke-width="0.8" stroke-opacity="0.5"/>
<circle cx="472" cy="79" r="3.35" fill="none" stroke="#ff0000" stroke-width="1.05"/>
<line x1="468.7" y1="79" x2="475.3" y2="79" stroke="#ff0000" stroke-width="0.8" stroke-opacity="0.5"/>
<line x1="472" y1="75.7" x2="472" y2="82.3" stroke="#ff0000" stroke-width="0.8" stroke-opacity="0.5"/>
<circle cx="410.4" cy="131.2" r="3.35" fill="none" stroke="#ff0000" stroke-width="1.05"/>
<line x1="407.1" y1="131.2" x2="413.7" y2="131.2" stroke="#ff0000" stroke-width="0.8" stroke-opacity="0.5"/>
<line x1="410.4" y1="127.9" x2="410.4" y2="134.5" stroke="#ff0000" stroke-width="0.8" stroke-opacity="0.5"/>
<circle cx="407.6" cy="144.1" r="3.35" fill="none" stroke="#ff0000" stroke-width="1.05"/>
<line x1="404.3" y1="144.1" x2="410.9" y2="144.1" stroke="#ff0000" stroke-width="0.8" stroke-opacity="0.5"/>
<line x1="407.6" y1="140.8" x2="407.6" y2="147.4" stroke="#ff0000" stroke-width="0.8" stroke-opacity="0.5"/>
<circle cx="410.4" cy="152.5" r="3.35" fill="none" stroke="#ff0000" stroke-width="1.05"/>
<line x1="407.1" y1="152.5" x2="413.7" y2="152.5" stroke="#ff0000" stroke-width="0.8" stroke-opacity="0.5"/>
<line x1="410.4" y1="149.2" x2="410.4" y2="155.8" stroke="#ff0000" stroke-width="0.8" stroke-opacity="0.5"/>
<circle cx="403.8" cy="160.2" r="3.35" fill="none" stroke="#ff0000" stroke-width="1.05"/>
<line x1="400.5" y1="160.2" x2="407.1" y2="160.2" stroke="#ff0000" stroke-width="0.8" stroke-opacity="0.5"/>
<line x1="403.8" y1="156.9" x2="403.8" y2="163.5" stroke="#ff0000" stroke-width="0.8" stroke-opacity="0.5"/>
<circle cx="406" cy="167.4" r="3.35" fill="none" stroke="#ff0000" stroke-width="1.05"/>
<line x1="402.7" y1="167.4" x2="409.3" y2="167.4" stroke="#ff0000" stroke-width="0.8" stroke-opacity="0.5"/>
<line x1="406" y1="164.1" x2="406" y2="170.7" stroke="#ff0000" stroke-width="0.8" stroke-opacity="0.5"/>
<circle cx="418.7" cy="167.2" r="3.35" fill="none" stroke="#ff0000" stroke-width="1.05"/>
<line x1="415.4" y1="167.2" x2="422" y2="167.2" stroke="#ff0000" stroke-width="0.8" stroke-opacity="0.5"/>
<line x1="418.7" y1="163.9" x2="418.7" y2="170.5" stroke="#ff0000" stroke-width="0.8" stroke-opacity="0.5"/>
<circle cx="433.3" cy="131.4" r="3.35" fill="none" stroke="#ff0000" stroke-width="1.05"/>
<line x1="430" y1="131.4" x2="436.6" y2="131.4" stroke="#ff0000" stroke-width="0.8" stroke-opacity="0.5"/>
<line x1="433.3" y1="128.1" x2="433.3" y2="134.7" stroke="#ff0000" stroke-width="0.8" stroke-opacity="0.5"/>
<circle cx="420.3" cy="144.8" r="3.35" fill="none" stroke="#ff0000" stroke-width="1.05"/>
<line x1="417" y1="144.8" x2="423.6" y2="144.8" stroke="#ff0000" stroke-width="0.8" stroke-opacity="0.5"/>
<line x1="420.3" y1="141.5" x2="420.3" y2="148.1" stroke="#ff0000" stroke-width="0.8" stroke-opacity="0.5"/>
<circle cx="424.7" cy="147" r="3.35" fill="none" stroke="#ff0000" stroke-width="1.05"/>
<line x1="421.4" y1="147" x2="428" y2="147" stroke="#ff0000" stroke-width="0.8" stroke-opacity="0.5"/>
<line x1="424.7" y1="143.7" x2="424.7" y2="150.3" stroke="#ff0000" stroke-width="0.8" stroke-opacity="0.5"/>
<circle cx="428" cy="151.4" r="3.35" fill="none" stroke="#ff0000" stroke-width="1.05"/>
<line x1="424.7" y1="151.4" x2="431.3" y2="151.4" stroke="#ff0000" stroke-width="0.8" stroke-opacity="0.5"/>
<line x1="428" y1="148.1" x2="428" y2="154.7" stroke="#ff0000" stroke-width="0.8" stroke-opacity="0.5"/>
<circle cx="437.3" cy="145.9" r="3.35" fill="none" stroke="#ff0000" stroke-width="1.05"/>
<line x1="434" y1="145.9" x2="440.6" y2="145.9" stroke="#ff0000" stroke-width="0.8" stroke-opacity="0.5"/>
<line x1="437.3" y1="142.6" x2="437.3" y2="149.2" stroke="#ff0000" stroke-width="0.8" stroke-opacity="0.5"/>
<circle cx="447.7" cy="145.6" r="3.35" fill="none" stroke="#ff0000" stroke-width="1.05"/>
<line x1="444.4" y1="145.6" x2="451" y2="145.6" stroke="#ff0000" stroke-width="0.8" stroke-opacity="0.5"/>
<line x1="447.7" y1="142.3" x2="447.7" y2="148.9" stroke="#ff0000" stroke-width="0.8" stroke-opacity="0.5"/>
<circle cx="541.4" cy="184.7" r="3.35" fill="none" stroke="#ff0000" stroke-width="1.05"/>
<line x1="538.1" y1="184.7" x2="544.7" y2="184.7" stroke="#ff0000" stroke-width="0.8" stroke-opacity="0.5"/>
<line x1="541.4" y1="181.4" x2="541.4" y2="188" stroke="#ff0000" stroke-width="0.8" stroke-opacity="0.5"/>
<circle cx="431.3" cy="141" r="3.35" fill="none" stroke="#ff0000" stroke-width="1.05"/>
<line x1="428" y1="141" x2="434.6" y2="141" stroke="#ff0000" stroke-width="0.8" stroke-opacity="0.5"/>
<line x1="431.3" y1="137.7" x2="431.3" y2="144.3" stroke="#ff0000" stroke-width="0.8" stroke-opacity="0.5"/>
<polygon points="401.05,181.7 404.2,175.4 407.35,181.7" fill="none" stroke="#0000ff" stroke-width="1.1" stroke-linejoin="miter"/>
<line x1="402" y1="179.2" x2="406.4" y2="179.2" stroke="#0000ff" stroke-width="0.8" stroke-opacity="0.5"/>
<polygon points="400.65,152.3 403.8,146 406.95,152.3" fill="none" stroke="#0000ff" stroke-width="1.1" stroke-linejoin="miter"/>
<line x1="401.6" y1="149.8" x2="406" y2="149.8" stroke="#0000ff" stroke-width="0.8" stroke-opacity="0.5"/>
<polygon points="402.85,157.8 406,151.5 409.15,157.8" fill="none" stroke="#0000ff" stroke-width="1.1" stroke-linejoin="miter"/>
<line x1="403.8" y1="155.3" x2="408.2" y2="155.3" stroke="#0000ff" stroke-width="0.8" stroke-opacity="0.5"/>
<polygon points="404.45,164.4 407.6,158.1 410.75,164.4" fill="none" stroke="#0000ff" stroke-width="1.1" stroke-linejoin="miter"/>
<line x1="405.4" y1="161.9" x2="409.8" y2="161.9" stroke="#0000ff" stroke-width="0.8" stroke-opacity="0.5"/>
<polygon points="406.15,131.5 409.3,125.2 412.45,131.5" fill="none" stroke="#0000ff" stroke-width="1.1" stroke-linejoin="miter"/>
<line x1="407.1" y1="129" x2="411.5" y2="129" stroke="#0000ff" stroke-width="0.8" stroke-opacity="0.5"/>
<polygon points="406.15,139.9 409.3,133.6 412.45,139.9" fill="none" stroke="#0000ff" stroke-width="1.1" stroke-linejoin="miter"/>
<line x1="407.1" y1="137.4" x2="411.5" y2="137.4" stroke="#0000ff" stroke-width="0.8" stroke-opacity="0.5"/>
<polygon points="417.65,138.6 420.8,132.3 423.95,138.6" fill="none" stroke="#0000ff" stroke-width="1.1" stroke-linejoin="miter"/>
<line x1="418.6" y1="136.1" x2="423" y2="136.1" stroke="#0000ff" stroke-width="0.8" stroke-opacity="0.5"/>
<polygon points="417.15,145.7 420.3,139.4 423.45,145.7" fill="none" stroke="#0000ff" stroke-width="1.1" stroke-linejoin="miter"/>
<line x1="418.1" y1="143.2" x2="422.5" y2="143.2" stroke="#0000ff" stroke-width="0.8" stroke-opacity="0.5"/>
<polygon points="423.15,139.7 426.3,133.4 429.45,139.7" fill="none" stroke="#0000ff" stroke-width="1.1" stroke-linejoin="miter"/>
<line x1="424.1" y1="137.2" x2="428.5" y2="137.2" stroke="#0000ff" stroke-width="0.8" stroke-opacity="0.5"/>
<polygon points="422.65,148.5 425.8,142.2 428.95,148.5" fill="none" stroke="#0000ff" stroke-width="1.1" stroke-linejoin="miter"/>
<line x1="423.6" y1="146" x2="428" y2="146" stroke="#0000ff" stroke-width="0.8" stroke-opacity="0.5"/>
<polygon points="420.45,157.8 423.6,151.5 426.75,157.8" fill="none" stroke="#0000ff" stroke-width="1.1" stroke-linejoin="miter"/>
<line x1="421.4" y1="155.3" x2="425.8" y2="155.3" stroke="#0000ff" stroke-width="0.8" stroke-opacity="0.5"/>
<polygon points="427.05,153.4 430.2,147.1 433.35,153.4" fill="none" stroke="#0000ff" stroke-width="1.1" stroke-linejoin="miter"/>
<line x1="428" y1="150.9" x2="432.4" y2="150.9" stroke="#0000ff" stroke-width="0.8" stroke-opacity="0.5"/>
<polygon points="429.25,137.5 432.4,131.2 435.55,137.5" fill="none" stroke="#0000ff" stroke-width="1.1" stroke-linejoin="miter"/>
<line x1="430.2" y1="135" x2="434.6" y2="135" stroke="#0000ff" stroke-width="0.8" stroke-opacity="0.5"/>
<polygon points="435.25,139.1 438.4,132.8 441.55,139.1" fill="none" stroke="#0000ff" stroke-width="1.1" stroke-linejoin="miter"/>
<line x1="436.2" y1="136.6" x2="440.6" y2="136.6" stroke="#0000ff" stroke-width="0.8" stroke-opacity="0.5"/>
<polygon points="434.15,146.3 437.3,140 440.45,146.3" fill="none" stroke="#0000ff" stroke-width="1.1" stroke-linejoin="miter"/>
<line x1="435.1" y1="143.8" x2="439.5" y2="143.8" stroke="#0000ff" stroke-width="0.8" stroke-opacity="0.5"/>
<polygon points="430.55,120.2 433.7,113.9 436.85,120.2" fill="none" stroke="#0000ff" stroke-width="1.1" stroke-linejoin="miter"/>
<line x1="431.5" y1="117.7" x2="435.9" y2="117.7" stroke="#0000ff" stroke-width="0.8" stroke-opacity="0.5"/>
<polygon points="435.25,119.1 438.4,112.8 441.55,119.1" fill="none" stroke="#0000ff" stroke-width="1.1" stroke-linejoin="miter"/>
<line x1="436.2" y1="116.6" x2="440.6" y2="116.6" stroke="#0000ff" stroke-width="0.8" stroke-opacity="0.5"/>
<polygon points="444.05,121.3 447.2,115 450.35,121.3" fill="none" stroke="#0000ff" stroke-width="1.1" stroke-linejoin="miter"/>
<line x1="445" y1="118.8" x2="449.4" y2="118.8" stroke="#0000ff" stroke-width="0.8" stroke-opacity="0.5"/>
<polygon points="439.35,123.9 442.5,117.6 445.65,123.9" fill="none" stroke="#0000ff" stroke-width="1.1" stroke-linejoin="miter"/>
<line x1="440.3" y1="121.4" x2="444.7" y2="121.4" stroke="#0000ff" stroke-width="0.8" stroke-opacity="0.5"/>
<polygon points="423.55,127.1 426.7,120.8 429.85,127.1" fill="none" stroke="#0000ff" stroke-width="1.1" stroke-linejoin="miter"/>
<line x1="424.5" y1="124.6" x2="428.9" y2="124.6" stroke="#0000ff" stroke-width="0.8" stroke-opacity="0.5"/>
<polygon points="429.45,126.4 432.6,120.1 435.75,126.4" fill="none" stroke="#0000ff" stroke-width="1.1" stroke-linejoin="miter"/>
<line x1="430.4" y1="123.9" x2="434.8" y2="123.9" stroke="#0000ff" stroke-width="0.8" stroke-opacity="0.5"/>
<polygon points="433.85,126.8 437,120.5 440.15,126.8" fill="none" stroke="#0000ff" stroke-width="1.1" stroke-linejoin="miter"/>
<line x1="434.8" y1="124.3" x2="439.2" y2="124.3" stroke="#0000ff" stroke-width="0.8" stroke-opacity="0.5"/>
<polygon points="429.45,133.7 432.6,127.4 435.75,133.7" fill="none" stroke="#0000ff" stroke-width="1.1" stroke-linejoin="miter"/>
<line x1="430.4" y1="131.2" x2="434.8" y2="131.2" stroke="#0000ff" stroke-width="0.8" stroke-opacity="0.5"/>
<polygon points="427.95,137.4 431.1,131.1 434.25,137.4" fill="none" stroke="#0000ff" stroke-width="1.1" stroke-linejoin="miter"/>
<line x1="428.9" y1="134.9" x2="433.3" y2="134.9" stroke="#0000ff" stroke-width="0.8" stroke-opacity="0.5"/>
<polygon points="431.65,141.4 434.8,135.1 437.95,141.4" fill="none" stroke="#0000ff" stroke-width="1.1" stroke-linejoin="miter"/>
<line x1="432.6" y1="138.9" x2="437" y2="138.9" stroke="#0000ff" stroke-width="0.8" stroke-opacity="0.5"/>
<polygon points="444.35,109.8 447.5,103.5 450.65,109.8" fill="none" stroke="#0000ff" stroke-width="1.1" stroke-linejoin="miter"/>
<line x1="445.3" y1="107.3" x2="449.7" y2="107.3" stroke="#0000ff" stroke-width="0.8" stroke-opacity="0.5"/>
<polygon points="444.95,76.6 448.1,70.3 451.25,76.6" fill="none" stroke="#0000ff" stroke-width="1.1" stroke-linejoin="miter"/>
<line x1="445.9" y1="74.1" x2="450.3" y2="74.1" stroke="#0000ff" stroke-width="0.8" stroke-opacity="0.5"/>
<polygon points="495.65,67.7 498.8,61.4 501.95,67.7" fill="none" stroke="#0000ff" stroke-width="1.1" stroke-linejoin="miter"/>
<line x1="496.6" y1="65.2" x2="501" y2="65.2" stroke="#0000ff" stroke-width="0.8" stroke-opacity="0.5"/>
<polygon points="470.15,87.5 473.3,81.2 476.45,87.5" fill="none" stroke="#0000ff" stroke-width="1.1" stroke-linejoin="miter"/>
<line x1="471.1" y1="85" x2="475.5" y2="85" stroke="#0000ff" stroke-width="0.8" stroke-opacity="0.5"/>
<polygon points="474.55,89.6 477.7,83.3 480.85,89.6" fill="none" stroke="#0000ff" stroke-width="1.1" stroke-linejoin="miter"/>
<line x1="475.5" y1="87.1" x2="479.9" y2="87.1" stroke="#0000ff" stroke-width="0.8" stroke-opacity="0.5"/>
<polygon points="469.15,99.1 472.3,92.8 475.45,99.1" fill="none" stroke="#0000ff" stroke-width="1.1" stroke-linejoin="miter"/>
<line x1="470.1" y1="96.6" x2="474.5" y2="96.6" stroke="#0000ff" stroke-width="0.8" stroke-opacity="0.5"/>
<polygon points="456.65,122.1 459.8,115.8 462.95,122.1" fill="none" stroke="#0000ff" stroke-width="1.1" stroke-linejoin="miter"/>
<line x1="457.6" y1="119.6" x2="462" y2="119.6" stroke="#0000ff" stroke-width="0.8" stroke-opacity="0.5"/>
<polygon points="467.65,125.5 470.8,119.2 473.95,125.5" fill="none" stroke="#0000ff" stroke-width="1.1" stroke-linejoin="miter"/>
<line x1="468.6" y1="123" x2="473" y2="123" stroke="#0000ff" stroke-width="0.8" stroke-opacity="0.5"/>
<polygon points="517.15,144.5 520.3,138.2 523.45,144.5" fill="none" stroke="#0000ff" stroke-width="1.1" stroke-linejoin="miter"/>
<line x1="518.1" y1="142" x2="522.5" y2="142" stroke="#0000ff" stroke-width="0.8" stroke-opacity="0.5"/>
<polygon points="538.25,203.2 541.4,196.9 544.55,203.2" fill="none" stroke="#0000ff" stroke-width="1.1" stroke-linejoin="miter"/>
<line x1="539.2" y1="200.7" x2="543.6" y2="200.7" stroke="#0000ff" stroke-width="0.8" stroke-opacity="0.5"/>
</g>
<g clip-path="url(#cpc)">
<line x1="74.7" y1="294" x2="74.7" y2="494" stroke="#ff0000" stroke-width="1.0" stroke-opacity="0.55"/>
<line x1="84.3" y1="437.2" x2="97" y2="437.2" stroke="#ff0000" stroke-width="1.0" stroke-opacity="0.55"/>
<line x1="93.6" y1="403" x2="93.6" y2="471.7" stroke="#ff0000" stroke-width="1.0" stroke-opacity="0.55"/>
<line x1="102.5" y1="392.5" x2="102.5" y2="430.7" stroke="#ff0000" stroke-width="1.0" stroke-opacity="0.55"/>
<line x1="84.3" y1="453.4" x2="92" y2="453.4" stroke="#ff0000" stroke-width="1.0" stroke-opacity="0.55"/>
<line x1="66.9" y1="464" x2="76" y2="464" stroke="#ff0000" stroke-width="1.0" stroke-opacity="0.55"/>
<line x1="112.6" y1="436" x2="112.6" y2="446.9" stroke="#ff0000" stroke-width="1.0" stroke-opacity="0.55"/>
<line x1="118.4" y1="363.1" x2="118.4" y2="398" stroke="#ff0000" stroke-width="1.0" stroke-opacity="0.55"/>
<line x1="114.2" y1="403.4" x2="123" y2="403.4" stroke="#ff0000" stroke-width="1.0" stroke-opacity="0.55"/>
<line x1="136" y1="393.5" x2="136" y2="438" stroke="#ff0000" stroke-width="1.0" stroke-opacity="0.55"/>
<line x1="141.5" y1="350.5" x2="160.1" y2="350.5" stroke="#ff0000" stroke-width="1.0" stroke-opacity="0.55"/>
<line x1="151.2" y1="279.3" x2="151.2" y2="504" stroke="#ff0000" stroke-width="1.0" stroke-opacity="0.55"/>
<line x1="148" y1="363.3" x2="161.4" y2="363.3" stroke="#ff0000" stroke-width="1.0" stroke-opacity="0.55"/>
<line x1="154.6" y1="279.3" x2="154.6" y2="467.9" stroke="#ff0000" stroke-width="1.0" stroke-opacity="0.55"/>
<line x1="169.1" y1="338.6" x2="169.1" y2="390" stroke="#ff0000" stroke-width="1.0" stroke-opacity="0.55"/>
<line x1="42.3" y1="430" x2="99.8" y2="430" stroke="#0000ff" stroke-width="1.0" stroke-opacity="0.55"/>
<line x1="71.5" y1="386.8" x2="71.5" y2="455.2" stroke="#0000ff" stroke-width="1.0" stroke-opacity="0.55"/>
<line x1="66.9" y1="472.9" x2="76" y2="472.9" stroke="#0000ff" stroke-width="1.0" stroke-opacity="0.55"/>
<line x1="74.7" y1="496" x2="74.7" y2="504" stroke="#0000ff" stroke-width="1.0" stroke-opacity="0.55"/>
<line x1="96.4" y1="466.6" x2="105.5" y2="466.6" stroke="#0000ff" stroke-width="1.0" stroke-opacity="0.55"/>
<line x1="113.3" y1="410.6" x2="123.4" y2="410.6" stroke="#0000ff" stroke-width="1.0" stroke-opacity="0.55"/>
<line x1="110.1" y1="422.5" x2="125.2" y2="422.5" stroke="#0000ff" stroke-width="1.0" stroke-opacity="0.55"/>
<line x1="117.9" y1="420" x2="117.9" y2="435.3" stroke="#0000ff" stroke-width="1.0" stroke-opacity="0.55"/>
<line x1="130.7" y1="443.2" x2="130.7" y2="460.2" stroke="#0000ff" stroke-width="1.0" stroke-opacity="0.55"/>
<line x1="112.4" y1="459.3" x2="112.4" y2="476.7" stroke="#0000ff" stroke-width="1.0" stroke-opacity="0.55"/>
<line x1="119.3" y1="379.7" x2="213.7" y2="379.7" stroke="#0000ff" stroke-width="1.0" stroke-opacity="0.55"/>
<line x1="166.5" y1="364.4" x2="166.5" y2="392" stroke="#0000ff" stroke-width="1.0" stroke-opacity="0.55"/>
<line x1="165.9" y1="386.8" x2="172.9" y2="386.8" stroke="#0000ff" stroke-width="1.0" stroke-opacity="0.55"/>
<line x1="142.2" y1="391.9" x2="160.8" y2="391.9" stroke="#0000ff" stroke-width="1.0" stroke-opacity="0.55"/>
<line x1="151.2" y1="395.4" x2="161.4" y2="395.4" stroke="#0000ff" stroke-width="1.0" stroke-opacity="0.55"/>
<line x1="160.4" y1="469.7" x2="206.2" y2="469.7" stroke="#0000ff" stroke-width="1.0" stroke-opacity="0.55"/>
<line x1="182.9" y1="461.4" x2="182.9" y2="476.7" stroke="#0000ff" stroke-width="1.0" stroke-opacity="0.55"/>
<circle cx="74.7" cy="410.8" r="3.35" fill="none" stroke="#ff0000" stroke-width="1.05"/>
<line x1="71.4" y1="410.8" x2="78" y2="410.8" stroke="#ff0000" stroke-width="0.8" stroke-opacity="0.5"/>
<line x1="74.7" y1="407.5" x2="74.7" y2="414.1" stroke="#ff0000" stroke-width="0.8" stroke-opacity="0.5"/>
<circle cx="75.1" cy="497.3" r="3.35" fill="none" stroke="#ff0000" stroke-width="1.05"/>
<line x1="71.8" y1="497.3" x2="78.4" y2="497.3" stroke="#ff0000" stroke-width="0.8" stroke-opacity="0.5"/>
<line x1="75.1" y1="494" x2="75.1" y2="500.6" stroke="#ff0000" stroke-width="0.8" stroke-opacity="0.5"/>
<circle cx="93.6" cy="437.2" r="3.35" fill="none" stroke="#ff0000" stroke-width="1.05"/>
<line x1="90.3" y1="437.2" x2="96.9" y2="437.2" stroke="#ff0000" stroke-width="0.8" stroke-opacity="0.5"/>
<line x1="93.6" y1="433.9" x2="93.6" y2="440.5" stroke="#ff0000" stroke-width="0.8" stroke-opacity="0.5"/>
<circle cx="96.6" cy="442.9" r="3.35" fill="none" stroke="#ff0000" stroke-width="1.05"/>
<line x1="93.3" y1="442.9" x2="99.9" y2="442.9" stroke="#ff0000" stroke-width="0.8" stroke-opacity="0.5"/>
<line x1="96.6" y1="439.6" x2="96.6" y2="446.2" stroke="#ff0000" stroke-width="0.8" stroke-opacity="0.5"/>
<circle cx="99.4" cy="416.4" r="3.35" fill="none" stroke="#ff0000" stroke-width="1.05"/>
<line x1="96.1" y1="416.4" x2="102.7" y2="416.4" stroke="#ff0000" stroke-width="0.8" stroke-opacity="0.5"/>
<line x1="99.4" y1="413.1" x2="99.4" y2="419.7" stroke="#ff0000" stroke-width="0.8" stroke-opacity="0.5"/>
<circle cx="102.5" cy="411.5" r="3.35" fill="none" stroke="#ff0000" stroke-width="1.05"/>
<line x1="99.2" y1="411.5" x2="105.8" y2="411.5" stroke="#ff0000" stroke-width="0.8" stroke-opacity="0.5"/>
<line x1="102.5" y1="408.2" x2="102.5" y2="414.8" stroke="#ff0000" stroke-width="0.8" stroke-opacity="0.5"/>
<circle cx="104" cy="447.6" r="3.35" fill="none" stroke="#ff0000" stroke-width="1.05"/>
<line x1="100.7" y1="447.6" x2="107.3" y2="447.6" stroke="#ff0000" stroke-width="0.8" stroke-opacity="0.5"/>
<line x1="104" y1="444.3" x2="104" y2="450.9" stroke="#ff0000" stroke-width="0.8" stroke-opacity="0.5"/>
<circle cx="88.8" cy="453.4" r="3.35" fill="none" stroke="#ff0000" stroke-width="1.05"/>
<line x1="85.5" y1="453.4" x2="92.1" y2="453.4" stroke="#ff0000" stroke-width="0.8" stroke-opacity="0.5"/>
<line x1="88.8" y1="450.1" x2="88.8" y2="456.7" stroke="#ff0000" stroke-width="0.8" stroke-opacity="0.5"/>
<circle cx="99.8" cy="462.4" r="3.35" fill="none" stroke="#ff0000" stroke-width="1.05"/>
<line x1="96.5" y1="462.4" x2="103.1" y2="462.4" stroke="#ff0000" stroke-width="0.8" stroke-opacity="0.5"/>
<line x1="99.8" y1="459.1" x2="99.8" y2="465.7" stroke="#ff0000" stroke-width="0.8" stroke-opacity="0.5"/>
<circle cx="71.5" cy="464" r="3.35" fill="none" stroke="#ff0000" stroke-width="1.05"/>
<line x1="68.2" y1="464" x2="74.8" y2="464" stroke="#ff0000" stroke-width="0.8" stroke-opacity="0.5"/>
<line x1="71.5" y1="460.7" x2="71.5" y2="467.3" stroke="#ff0000" stroke-width="0.8" stroke-opacity="0.5"/>
<circle cx="95.3" cy="477.7" r="3.35" fill="none" stroke="#ff0000" stroke-width="1.05"/>
<line x1="92" y1="477.7" x2="98.6" y2="477.7" stroke="#ff0000" stroke-width="0.8" stroke-opacity="0.5"/>
<line x1="95.3" y1="474.4" x2="95.3" y2="481" stroke="#ff0000" stroke-width="0.8" stroke-opacity="0.5"/>
<circle cx="112.6" cy="441.3" r="3.35" fill="none" stroke="#ff0000" stroke-width="1.05"/>
<line x1="109.3" y1="441.3" x2="115.9" y2="441.3" stroke="#ff0000" stroke-width="0.8" stroke-opacity="0.5"/>
<line x1="112.6" y1="438" x2="112.6" y2="444.6" stroke="#ff0000" stroke-width="0.8" stroke-opacity="0.5"/>
<circle cx="114.2" cy="454.7" r="3.35" fill="none" stroke="#ff0000" stroke-width="1.05"/>
<line x1="110.9" y1="454.7" x2="117.5" y2="454.7" stroke="#ff0000" stroke-width="0.8" stroke-opacity="0.5"/>
<line x1="114.2" y1="451.4" x2="114.2" y2="458" stroke="#ff0000" stroke-width="0.8" stroke-opacity="0.5"/>
<circle cx="117.4" cy="457" r="3.35" fill="none" stroke="#ff0000" stroke-width="1.05"/>
<line x1="114.1" y1="457" x2="120.7" y2="457" stroke="#ff0000" stroke-width="0.8" stroke-opacity="0.5"/>
<line x1="117.4" y1="453.7" x2="117.4" y2="460.3" stroke="#ff0000" stroke-width="0.8" stroke-opacity="0.5"/>
<circle cx="117.9" cy="459.7" r="3.35" fill="none" stroke="#ff0000" stroke-width="1.05"/>
<line x1="114.6" y1="459.7" x2="121.2" y2="459.7" stroke="#ff0000" stroke-width="0.8" stroke-opacity="0.5"/>
<line x1="117.9" y1="456.4" x2="117.9" y2="463" stroke="#ff0000" stroke-width="0.8" stroke-opacity="0.5"/>
<circle cx="118.4" cy="462" r="3.35" fill="none" stroke="#ff0000" stroke-width="1.05"/>
<line x1="115.1" y1="462" x2="121.7" y2="462" stroke="#ff0000" stroke-width="0.8" stroke-opacity="0.5"/>
<line x1="118.4" y1="458.7" x2="118.4" y2="465.3" stroke="#ff0000" stroke-width="0.8" stroke-opacity="0.5"/>
<circle cx="118.4" cy="390.7" r="3.35" fill="none" stroke="#ff0000" stroke-width="1.05"/>
<line x1="115.1" y1="390.7" x2="121.7" y2="390.7" stroke="#ff0000" stroke-width="0.8" stroke-opacity="0.5"/>
<line x1="118.4" y1="387.4" x2="118.4" y2="394" stroke="#ff0000" stroke-width="0.8" stroke-opacity="0.5"/>
<circle cx="118.8" cy="403.4" r="3.35" fill="none" stroke="#ff0000" stroke-width="1.05"/>
<line x1="115.5" y1="403.4" x2="122.1" y2="403.4" stroke="#ff0000" stroke-width="0.8" stroke-opacity="0.5"/>
<line x1="118.8" y1="400.1" x2="118.8" y2="406.7" stroke="#ff0000" stroke-width="0.8" stroke-opacity="0.5"/>
<circle cx="136" cy="415.9" r="3.35" fill="none" stroke="#ff0000" stroke-width="1.05"/>
<line x1="132.7" y1="415.9" x2="139.3" y2="415.9" stroke="#ff0000" stroke-width="0.8" stroke-opacity="0.5"/>
<line x1="136" y1="412.6" x2="136" y2="419.2" stroke="#ff0000" stroke-width="0.8" stroke-opacity="0.5"/>
<circle cx="151.2" cy="350.5" r="3.35" fill="none" stroke="#ff0000" stroke-width="1.05"/>
<line x1="147.9" y1="350.5" x2="154.5" y2="350.5" stroke="#ff0000" stroke-width="0.8" stroke-opacity="0.5"/>
<line x1="151.2" y1="347.2" x2="151.2" y2="353.8" stroke="#ff0000" stroke-width="0.8" stroke-opacity="0.5"/>
<circle cx="154.6" cy="363.3" r="3.35" fill="none" stroke="#ff0000" stroke-width="1.05"/>
<line x1="151.3" y1="363.3" x2="157.9" y2="363.3" stroke="#ff0000" stroke-width="0.8" stroke-opacity="0.5"/>
<line x1="154.6" y1="360" x2="154.6" y2="366.6" stroke="#ff0000" stroke-width="0.8" stroke-opacity="0.5"/>
<circle cx="169.1" cy="363.7" r="3.35" fill="none" stroke="#ff0000" stroke-width="1.05"/>
<line x1="165.8" y1="363.7" x2="172.4" y2="363.7" stroke="#ff0000" stroke-width="0.8" stroke-opacity="0.5"/>
<line x1="169.1" y1="360.4" x2="169.1" y2="367" stroke="#ff0000" stroke-width="0.8" stroke-opacity="0.5"/>
<circle cx="151.6" cy="407.5" r="3.35" fill="none" stroke="#ff0000" stroke-width="1.05"/>
<line x1="148.3" y1="407.5" x2="154.9" y2="407.5" stroke="#ff0000" stroke-width="0.8" stroke-opacity="0.5"/>
<line x1="151.6" y1="404.2" x2="151.6" y2="410.8" stroke="#ff0000" stroke-width="0.8" stroke-opacity="0.5"/>
<polygon points="68.35,433.1 71.5,426.8 74.65,433.1" fill="none" stroke="#0000ff" stroke-width="1.1" stroke-linejoin="miter"/>
<line x1="69.3" y1="430.6" x2="73.7" y2="430.6" stroke="#0000ff" stroke-width="0.8" stroke-opacity="0.5"/>
<polygon points="68.35,476 71.5,469.7 74.65,476" fill="none" stroke="#0000ff" stroke-width="1.1" stroke-linejoin="miter"/>
<line x1="69.3" y1="473.5" x2="73.7" y2="473.5" stroke="#0000ff" stroke-width="0.8" stroke-opacity="0.5"/>
<polygon points="71.55,506.6 74.7,500.3 77.85,506.6" fill="none" stroke="#0000ff" stroke-width="1.1" stroke-linejoin="miter"/>
<line x1="72.5" y1="504.1" x2="76.9" y2="504.1" stroke="#0000ff" stroke-width="0.8" stroke-opacity="0.5"/>
<polygon points="95.95,437.5 99.1,431.2 102.25,437.5" fill="none" stroke="#0000ff" stroke-width="1.1" stroke-linejoin="miter"/>
<line x1="96.9" y1="435" x2="101.3" y2="435" stroke="#0000ff" stroke-width="0.8" stroke-opacity="0.5"/>
<polygon points="96.25,447.8 99.4,441.5 102.55,447.8" fill="none" stroke="#0000ff" stroke-width="1.1" stroke-linejoin="miter"/>
<line x1="97.2" y1="445.3" x2="101.6" y2="445.3" stroke="#0000ff" stroke-width="0.8" stroke-opacity="0.5"/>
<polygon points="91.65,451 94.8,444.7 97.95,451" fill="none" stroke="#0000ff" stroke-width="1.1" stroke-linejoin="miter"/>
<line x1="92.6" y1="448.5" x2="97" y2="448.5" stroke="#0000ff" stroke-width="0.8" stroke-opacity="0.5"/>
<polygon points="99.85,446.4 103,440.1 106.15,446.4" fill="none" stroke="#0000ff" stroke-width="1.1" stroke-linejoin="miter"/>
<line x1="100.8" y1="443.9" x2="105.2" y2="443.9" stroke="#0000ff" stroke-width="0.8" stroke-opacity="0.5"/>
<polygon points="99.45,454.7 102.6,448.4 105.75,454.7" fill="none" stroke="#0000ff" stroke-width="1.1" stroke-linejoin="miter"/>
<line x1="100.4" y1="452.2" x2="104.8" y2="452.2" stroke="#0000ff" stroke-width="0.8" stroke-opacity="0.5"/>
<polygon points="94.35,452.8 97.5,446.5 100.65,452.8" fill="none" stroke="#0000ff" stroke-width="1.1" stroke-linejoin="miter"/>
<line x1="95.3" y1="450.3" x2="99.7" y2="450.3" stroke="#0000ff" stroke-width="0.8" stroke-opacity="0.5"/>
<polygon points="93.65,450 96.8,443.7 99.95,450" fill="none" stroke="#0000ff" stroke-width="1.1" stroke-linejoin="miter"/>
<line x1="94.6" y1="447.5" x2="99" y2="447.5" stroke="#0000ff" stroke-width="0.8" stroke-opacity="0.5"/>
<polygon points="86.15,465.6 89.3,459.3 92.45,465.6" fill="none" stroke="#0000ff" stroke-width="1.1" stroke-linejoin="miter"/>
<line x1="87.1" y1="463.1" x2="91.5" y2="463.1" stroke="#0000ff" stroke-width="0.8" stroke-opacity="0.5"/>
<polygon points="86.65,468.4 89.8,462.1 92.95,468.4" fill="none" stroke="#0000ff" stroke-width="1.1" stroke-linejoin="miter"/>
<line x1="87.6" y1="465.9" x2="92" y2="465.9" stroke="#0000ff" stroke-width="0.8" stroke-opacity="0.5"/>
<polygon points="96.25,469.7 99.4,463.4 102.55,469.7" fill="none" stroke="#0000ff" stroke-width="1.1" stroke-linejoin="miter"/>
<line x1="97.2" y1="467.2" x2="101.6" y2="467.2" stroke="#0000ff" stroke-width="0.8" stroke-opacity="0.5"/>
<polygon points="102.35,426.9 105.5,420.6 108.65,426.9" fill="none" stroke="#0000ff" stroke-width="1.1" stroke-linejoin="miter"/>
<line x1="103.3" y1="424.4" x2="107.7" y2="424.4" stroke="#0000ff" stroke-width="0.8" stroke-opacity="0.5"/>
<polygon points="115.65,413.7 118.8,407.4 121.95,413.7" fill="none" stroke="#0000ff" stroke-width="1.1" stroke-linejoin="miter"/>
<line x1="116.6" y1="411.2" x2="121" y2="411.2" stroke="#0000ff" stroke-width="0.8" stroke-opacity="0.5"/>
<polygon points="112.75,416.9 115.9,410.6 119.05,416.9" fill="none" stroke="#0000ff" stroke-width="1.1" stroke-linejoin="miter"/>
<line x1="113.7" y1="414.4" x2="118.1" y2="414.4" stroke="#0000ff" stroke-width="0.8" stroke-opacity="0.5"/>
<polygon points="115.25,425.6 118.4,419.3 121.55,425.6" fill="none" stroke="#0000ff" stroke-width="1.1" stroke-linejoin="miter"/>
<line x1="116.2" y1="423.1" x2="120.6" y2="423.1" stroke="#0000ff" stroke-width="0.8" stroke-opacity="0.5"/>
<polygon points="114.75,429.7 117.9,423.4 121.05,429.7" fill="none" stroke="#0000ff" stroke-width="1.1" stroke-linejoin="miter"/>
<line x1="115.7" y1="427.2" x2="120.1" y2="427.2" stroke="#0000ff" stroke-width="0.8" stroke-opacity="0.5"/>
<polygon points="114.25,431.5 117.4,425.2 120.55,431.5" fill="none" stroke="#0000ff" stroke-width="1.1" stroke-linejoin="miter"/>
<line x1="115.2" y1="429" x2="119.6" y2="429" stroke="#0000ff" stroke-width="0.8" stroke-opacity="0.5"/>
<polygon points="132.85,429.7 136,423.4 139.15,429.7" fill="none" stroke="#0000ff" stroke-width="1.1" stroke-linejoin="miter"/>
<line x1="133.8" y1="427.2" x2="138.2" y2="427.2" stroke="#0000ff" stroke-width="0.8" stroke-opacity="0.5"/>
<polygon points="100.05,444.3 103.2,438 106.35,444.3" fill="none" stroke="#0000ff" stroke-width="1.1" stroke-linejoin="miter"/>
<line x1="101" y1="441.8" x2="105.4" y2="441.8" stroke="#0000ff" stroke-width="0.8" stroke-opacity="0.5"/>
<polygon points="111.95,443.4 115.1,437.1 118.25,443.4" fill="none" stroke="#0000ff" stroke-width="1.1" stroke-linejoin="miter"/>
<line x1="112.9" y1="440.9" x2="117.3" y2="440.9" stroke="#0000ff" stroke-width="0.8" stroke-opacity="0.5"/>
<polygon points="115.45,444.9 118.6,438.6 121.75,444.9" fill="none" stroke="#0000ff" stroke-width="1.1" stroke-linejoin="miter"/>
<line x1="116.4" y1="442.4" x2="120.8" y2="442.4" stroke="#0000ff" stroke-width="0.8" stroke-opacity="0.5"/>
<polygon points="127.55,456 130.7,449.7 133.85,456" fill="none" stroke="#0000ff" stroke-width="1.1" stroke-linejoin="miter"/>
<line x1="128.5" y1="453.5" x2="132.9" y2="453.5" stroke="#0000ff" stroke-width="0.8" stroke-opacity="0.5"/>
<polygon points="109.25,472 112.4,465.7 115.55,472" fill="none" stroke="#0000ff" stroke-width="1.1" stroke-linejoin="miter"/>
<line x1="110.2" y1="469.5" x2="114.6" y2="469.5" stroke="#0000ff" stroke-width="0.8" stroke-opacity="0.5"/>
<polygon points="163.35,382.8 166.5,376.5 169.65,382.8" fill="none" stroke="#0000ff" stroke-width="1.1" stroke-linejoin="miter"/>
<line x1="164.3" y1="380.3" x2="168.7" y2="380.3" stroke="#0000ff" stroke-width="0.8" stroke-opacity="0.5"/>
<polygon points="165.95,389.9 169.1,383.6 172.25,389.9" fill="none" stroke="#0000ff" stroke-width="1.1" stroke-linejoin="miter"/>
<line x1="166.9" y1="387.4" x2="171.3" y2="387.4" stroke="#0000ff" stroke-width="0.8" stroke-opacity="0.5"/>
<polygon points="148.05,395 151.2,388.7 154.35,395" fill="none" stroke="#0000ff" stroke-width="1.1" stroke-linejoin="miter"/>
<line x1="149" y1="392.5" x2="153.4" y2="392.5" stroke="#0000ff" stroke-width="0.8" stroke-opacity="0.5"/>
<polygon points="151.45,398.5 154.6,392.2 157.75,398.5" fill="none" stroke="#0000ff" stroke-width="1.1" stroke-linejoin="miter"/>
<line x1="152.4" y1="396" x2="156.8" y2="396" stroke="#0000ff" stroke-width="0.8" stroke-opacity="0.5"/>
<polygon points="148.55,430.8 151.7,424.5 154.85,430.8" fill="none" stroke="#0000ff" stroke-width="1.1" stroke-linejoin="miter"/>
<line x1="149.5" y1="428.3" x2="153.9" y2="428.3" stroke="#0000ff" stroke-width="0.8" stroke-opacity="0.5"/>
<polygon points="148.55,433.4 151.7,427.1 154.85,433.4" fill="none" stroke="#0000ff" stroke-width="1.1" stroke-linejoin="miter"/>
<line x1="149.5" y1="430.9" x2="153.9" y2="430.9" stroke="#0000ff" stroke-width="0.8" stroke-opacity="0.5"/>
<polygon points="179.75,472.8 182.9,466.5 186.05,472.8" fill="none" stroke="#0000ff" stroke-width="1.1" stroke-linejoin="miter"/>
<line x1="180.7" y1="470.3" x2="185.1" y2="470.3" stroke="#0000ff" stroke-width="0.8" stroke-opacity="0.5"/>
</g>
<g clip-path="url(#cpd)">
<line x1="340.8" y1="442" x2="340.8" y2="453" stroke="#ff0000" stroke-width="1.0" stroke-opacity="0.55"/>
<line x1="364.1" y1="407.4" x2="364.1" y2="438.5" stroke="#ff0000" stroke-width="1.0" stroke-opacity="0.55"/>
<line x1="367.6" y1="435.9" x2="367.6" y2="446.8" stroke="#ff0000" stroke-width="1.0" stroke-opacity="0.55"/>
<line x1="358.8" y1="387.1" x2="383" y2="387.1" stroke="#ff0000" stroke-width="1.0" stroke-opacity="0.55"/>
<line x1="440.5" y1="385" x2="440.5" y2="414.9" stroke="#ff0000" stroke-width="1.0" stroke-opacity="0.55"/>
<line x1="409.1" y1="372" x2="409.1" y2="383" stroke="#ff0000" stroke-width="1.0" stroke-opacity="0.55"/>
<line x1="421.9" y1="379" x2="421.9" y2="389" stroke="#ff0000" stroke-width="1.0" stroke-opacity="0.55"/>
<line x1="399.9" y1="346.4" x2="410" y2="346.4" stroke="#ff0000" stroke-width="1.0" stroke-opacity="0.55"/>
<line x1="411.5" y1="347.2" x2="421" y2="347.2" stroke="#ff0000" stroke-width="1.0" stroke-opacity="0.55"/>
<line x1="416.1" y1="367.5" x2="427.1" y2="367.5" stroke="#ff0000" stroke-width="1.0" stroke-opacity="0.55"/>
<line x1="450" y1="355.7" x2="459.3" y2="355.7" stroke="#ff0000" stroke-width="1.0" stroke-opacity="0.55"/>
<line x1="454.9" y1="350" x2="454.9" y2="363.7" stroke="#ff0000" stroke-width="1.0" stroke-opacity="0.55"/>
<line x1="476.2" y1="363.7" x2="507.9" y2="363.7" stroke="#ff0000" stroke-width="1.0" stroke-opacity="0.55"/>
<line x1="480" y1="366.5" x2="480" y2="412.7" stroke="#ff0000" stroke-width="1.0" stroke-opacity="0.55"/>
<line x1="462.3" y1="403.5" x2="485.4" y2="403.5" stroke="#ff0000" stroke-width="1.0" stroke-opacity="0.55"/>
<line x1="499.2" y1="293.7" x2="532.5" y2="293.7" stroke="#ff0000" stroke-width="1.0" stroke-opacity="0.55"/>
<line x1="520.5" y1="283.4" x2="520.5" y2="309.8" stroke="#ff0000" stroke-width="1.0" stroke-opacity="0.55"/>
<line x1="453" y1="328.4" x2="556.6" y2="328.4" stroke="#ff0000" stroke-width="1.0" stroke-opacity="0.55"/>
<line x1="537.3" y1="322.2" x2="537.3" y2="336.9" stroke="#ff0000" stroke-width="1.0" stroke-opacity="0.55"/>
<line x1="340.7" y1="492" x2="340.7" y2="504" stroke="#0000ff" stroke-width="1.0" stroke-opacity="0.55"/>
<line x1="359.6" y1="453.4" x2="359.6" y2="476.4" stroke="#0000ff" stroke-width="1.0" stroke-opacity="0.55"/>
<line x1="367.9" y1="468.6" x2="367.9" y2="485.7" stroke="#0000ff" stroke-width="1.0" stroke-opacity="0.55"/>
<line x1="381" y1="461.6" x2="388.7" y2="461.6" stroke="#0000ff" stroke-width="1.0" stroke-opacity="0.55"/>
<line x1="384.6" y1="457" x2="384.6" y2="468" stroke="#0000ff" stroke-width="1.0" stroke-opacity="0.55"/>
<line x1="388.1" y1="444.9" x2="388.1" y2="456.4" stroke="#0000ff" stroke-width="1.0" stroke-opacity="0.55"/>
<line x1="399.4" y1="476.4" x2="409.7" y2="476.4" stroke="#0000ff" stroke-width="1.0" stroke-opacity="0.55"/>
<line x1="405" y1="472" x2="405" y2="481.4" stroke="#0000ff" stroke-width="1.0" stroke-opacity="0.55"/>
<line x1="411.8" y1="468.2" x2="421.4" y2="468.2" stroke="#0000ff" stroke-width="1.0" stroke-opacity="0.55"/>
<line x1="358.6" y1="417.8" x2="382.9" y2="417.8" stroke="#0000ff" stroke-width="1.0" stroke-opacity="0.55"/>
<line x1="373.4" y1="409.7" x2="373.4" y2="425.7" stroke="#0000ff" stroke-width="1.0" stroke-opacity="0.55"/>
<line x1="373.3" y1="435.1" x2="384.2" y2="435.1" stroke="#0000ff" stroke-width="1.0" stroke-opacity="0.55"/>
<line x1="378.2" y1="428.3" x2="378.2" y2="442.5" stroke="#0000ff" stroke-width="1.0" stroke-opacity="0.55"/>
<line x1="440.4" y1="370" x2="440.4" y2="391.8" stroke="#0000ff" stroke-width="1.0" stroke-opacity="0.55"/>
<line x1="426.4" y1="401.4" x2="434.2" y2="401.4" stroke="#0000ff" stroke-width="1.0" stroke-opacity="0.55"/>
<line x1="436.3" y1="400.8" x2="436.3" y2="426.4" stroke="#0000ff" stroke-width="1.0" stroke-opacity="0.55"/>
<line x1="448.2" y1="389.2" x2="459.7" y2="389.2" stroke="#0000ff" stroke-width="1.0" stroke-opacity="0.55"/>
<line x1="454.2" y1="379.6" x2="454.2" y2="402" stroke="#0000ff" stroke-width="1.0" stroke-opacity="0.55"/>
<line x1="474.2" y1="373.8" x2="507.9" y2="373.8" stroke="#0000ff" stroke-width="1.0" stroke-opacity="0.55"/>
<line x1="496.3" y1="369.4" x2="496.3" y2="380" stroke="#0000ff" stroke-width="1.0" stroke-opacity="0.55"/>
<line x1="470.6" y1="300" x2="470.6" y2="311.7" stroke="#0000ff" stroke-width="1.0" stroke-opacity="0.55"/>
<line x1="479.8" y1="331" x2="479.8" y2="352.3" stroke="#0000ff" stroke-width="1.0" stroke-opacity="0.55"/>
<line x1="499.2" y1="351.5" x2="532.5" y2="351.5" stroke="#0000ff" stroke-width="1.0" stroke-opacity="0.55"/>
<line x1="520.5" y1="335.4" x2="520.5" y2="384.8" stroke="#0000ff" stroke-width="1.0" stroke-opacity="0.55"/>
<line x1="453" y1="424.2" x2="556.6" y2="424.2" stroke="#0000ff" stroke-width="1.0" stroke-opacity="0.55"/>
<line x1="537.7" y1="416.5" x2="537.7" y2="431.9" stroke="#0000ff" stroke-width="1.0" stroke-opacity="0.55"/>
<line x1="462.3" y1="435.8" x2="485.4" y2="435.8" stroke="#0000ff" stroke-width="1.0" stroke-opacity="0.55"/>
<line x1="475.8" y1="427.1" x2="475.8" y2="446.3" stroke="#0000ff" stroke-width="1.0" stroke-opacity="0.55"/>
<circle cx="340.8" cy="447.5" r="3.35" fill="none" stroke="#ff0000" stroke-width="1.05"/>
<line x1="337.5" y1="447.5" x2="344.1" y2="447.5" stroke="#ff0000" stroke-width="0.8" stroke-opacity="0.5"/>
<line x1="340.8" y1="444.2" x2="340.8" y2="450.8" stroke="#ff0000" stroke-width="0.8" stroke-opacity="0.5"/>
<circle cx="359.5" cy="407.4" r="3.35" fill="none" stroke="#ff0000" stroke-width="1.05"/>
<line x1="356.2" y1="407.4" x2="362.8" y2="407.4" stroke="#ff0000" stroke-width="0.8" stroke-opacity="0.5"/>
<line x1="359.5" y1="404.1" x2="359.5" y2="410.7" stroke="#ff0000" stroke-width="0.8" stroke-opacity="0.5"/>
<circle cx="364.1" cy="419" r="3.35" fill="none" stroke="#ff0000" stroke-width="1.05"/>
<line x1="360.8" y1="419" x2="367.4" y2="419" stroke="#ff0000" stroke-width="0.8" stroke-opacity="0.5"/>
<line x1="364.1" y1="415.7" x2="364.1" y2="422.3" stroke="#ff0000" stroke-width="0.8" stroke-opacity="0.5"/>
<circle cx="367.6" cy="440.8" r="3.35" fill="none" stroke="#ff0000" stroke-width="1.05"/>
<line x1="364.3" y1="440.8" x2="370.9" y2="440.8" stroke="#ff0000" stroke-width="0.8" stroke-opacity="0.5"/>
<line x1="367.6" y1="437.5" x2="367.6" y2="444.1" stroke="#ff0000" stroke-width="0.8" stroke-opacity="0.5"/>
<circle cx="373.2" cy="387.1" r="3.35" fill="none" stroke="#ff0000" stroke-width="1.05"/>
<line x1="369.9" y1="387.1" x2="376.5" y2="387.1" stroke="#ff0000" stroke-width="0.8" stroke-opacity="0.5"/>
<line x1="373.2" y1="383.8" x2="373.2" y2="390.4" stroke="#ff0000" stroke-width="0.8" stroke-opacity="0.5"/>
<circle cx="376.9" cy="411.9" r="3.35" fill="none" stroke="#ff0000" stroke-width="1.05"/>
<line x1="373.6" y1="411.9" x2="380.2" y2="411.9" stroke="#ff0000" stroke-width="0.8" stroke-opacity="0.5"/>
<line x1="376.9" y1="408.6" x2="376.9" y2="415.2" stroke="#ff0000" stroke-width="0.8" stroke-opacity="0.5"/>
<circle cx="378.2" cy="409.7" r="3.35" fill="none" stroke="#ff0000" stroke-width="1.05"/>
<line x1="374.9" y1="409.7" x2="381.5" y2="409.7" stroke="#ff0000" stroke-width="0.8" stroke-opacity="0.5"/>
<line x1="378.2" y1="406.4" x2="378.2" y2="413" stroke="#ff0000" stroke-width="0.8" stroke-opacity="0.5"/>
<circle cx="383.3" cy="408.7" r="3.35" fill="none" stroke="#ff0000" stroke-width="1.05"/>
<line x1="380" y1="408.7" x2="386.6" y2="408.7" stroke="#ff0000" stroke-width="0.8" stroke-opacity="0.5"/>
<line x1="383.3" y1="405.4" x2="383.3" y2="412" stroke="#ff0000" stroke-width="0.8" stroke-opacity="0.5"/>
<circle cx="393.6" cy="407.8" r="3.35" fill="none" stroke="#ff0000" stroke-width="1.05"/>
<line x1="390.3" y1="407.8" x2="396.9" y2="407.8" stroke="#ff0000" stroke-width="0.8" stroke-opacity="0.5"/>
<line x1="393.6" y1="404.5" x2="393.6" y2="411.1" stroke="#ff0000" stroke-width="0.8" stroke-opacity="0.5"/>
<circle cx="401.3" cy="402.8" r="3.35" fill="none" stroke="#ff0000" stroke-width="1.05"/>
<line x1="398" y1="402.8" x2="404.6" y2="402.8" stroke="#ff0000" stroke-width="0.8" stroke-opacity="0.5"/>
<line x1="401.3" y1="399.5" x2="401.3" y2="406.1" stroke="#ff0000" stroke-width="0.8" stroke-opacity="0.5"/>
<circle cx="402.5" cy="409.2" r="3.35" fill="none" stroke="#ff0000" stroke-width="1.05"/>
<line x1="399.2" y1="409.2" x2="405.8" y2="409.2" stroke="#ff0000" stroke-width="0.8" stroke-opacity="0.5"/>
<line x1="402.5" y1="405.9" x2="402.5" y2="412.5" stroke="#ff0000" stroke-width="0.8" stroke-opacity="0.5"/>
<circle cx="408.5" cy="396.4" r="3.35" fill="none" stroke="#ff0000" stroke-width="1.05"/>
<line x1="405.2" y1="396.4" x2="411.8" y2="396.4" stroke="#ff0000" stroke-width="0.8" stroke-opacity="0.5"/>
<line x1="408.5" y1="393.1" x2="408.5" y2="399.7" stroke="#ff0000" stroke-width="0.8" stroke-opacity="0.5"/>
<circle cx="419.5" cy="398.2" r="3.35" fill="none" stroke="#ff0000" stroke-width="1.05"/>
<line x1="416.2" y1="398.2" x2="422.8" y2="398.2" stroke="#ff0000" stroke-width="0.8" stroke-opacity="0.5"/>
<line x1="419.5" y1="394.9" x2="419.5" y2="401.5" stroke="#ff0000" stroke-width="0.8" stroke-opacity="0.5"/>
<circle cx="388.1" cy="421.1" r="3.35" fill="none" stroke="#ff0000" stroke-width="1.05"/>
<line x1="384.8" y1="421.1" x2="391.4" y2="421.1" stroke="#ff0000" stroke-width="0.8" stroke-opacity="0.5"/>
<line x1="388.1" y1="417.8" x2="388.1" y2="424.4" stroke="#ff0000" stroke-width="0.8" stroke-opacity="0.5"/>
<circle cx="384.7" cy="435.3" r="3.35" fill="none" stroke="#ff0000" stroke-width="1.05"/>
<line x1="381.4" y1="435.3" x2="388" y2="435.3" stroke="#ff0000" stroke-width="0.8" stroke-opacity="0.5"/>
<line x1="384.7" y1="432" x2="384.7" y2="438.6" stroke="#ff0000" stroke-width="0.8" stroke-opacity="0.5"/>
<circle cx="403.3" cy="389.9" r="3.35" fill="none" stroke="#ff0000" stroke-width="1.05"/>
<line x1="400" y1="389.9" x2="406.6" y2="389.9" stroke="#ff0000" stroke-width="0.8" stroke-opacity="0.5"/>
<line x1="403.3" y1="386.6" x2="403.3" y2="393.2" stroke="#ff0000" stroke-width="0.8" stroke-opacity="0.5"/>
<circle cx="405.9" cy="393.1" r="3.35" fill="none" stroke="#ff0000" stroke-width="1.05"/>
<line x1="402.6" y1="393.1" x2="409.2" y2="393.1" stroke="#ff0000" stroke-width="0.8" stroke-opacity="0.5"/>
<line x1="405.9" y1="389.8" x2="405.9" y2="396.4" stroke="#ff0000" stroke-width="0.8" stroke-opacity="0.5"/>
<circle cx="417.4" cy="392.4" r="3.35" fill="none" stroke="#ff0000" stroke-width="1.05"/>
<line x1="414.1" y1="392.4" x2="420.7" y2="392.4" stroke="#ff0000" stroke-width="0.8" stroke-opacity="0.5"/>
<line x1="417.4" y1="389.1" x2="417.4" y2="395.7" stroke="#ff0000" stroke-width="0.8" stroke-opacity="0.5"/>
<circle cx="430.3" cy="390.5" r="3.35" fill="none" stroke="#ff0000" stroke-width="1.05"/>
<line x1="427" y1="390.5" x2="433.6" y2="390.5" stroke="#ff0000" stroke-width="0.8" stroke-opacity="0.5"/>
<line x1="430.3" y1="387.2" x2="430.3" y2="393.8" stroke="#ff0000" stroke-width="0.8" stroke-opacity="0.5"/>
<circle cx="440.5" cy="391.8" r="3.35" fill="none" stroke="#ff0000" stroke-width="1.05"/>
<line x1="437.2" y1="391.8" x2="443.8" y2="391.8" stroke="#ff0000" stroke-width="0.8" stroke-opacity="0.5"/>
<line x1="440.5" y1="388.5" x2="440.5" y2="395.1" stroke="#ff0000" stroke-width="0.8" stroke-opacity="0.5"/>
<circle cx="409.1" cy="377.1" r="3.35" fill="none" stroke="#ff0000" stroke-width="1.05"/>
<line x1="405.8" y1="377.1" x2="412.4" y2="377.1" stroke="#ff0000" stroke-width="0.8" stroke-opacity="0.5"/>
<line x1="409.1" y1="373.8" x2="409.1" y2="380.4" stroke="#ff0000" stroke-width="0.8" stroke-opacity="0.5"/>
<circle cx="421.9" cy="383.5" r="3.35" fill="none" stroke="#ff0000" stroke-width="1.05"/>
<line x1="418.6" y1="383.5" x2="425.2" y2="383.5" stroke="#ff0000" stroke-width="0.8" stroke-opacity="0.5"/>
<line x1="421.9" y1="380.2" x2="421.9" y2="386.8" stroke="#ff0000" stroke-width="0.8" stroke-opacity="0.5"/>
<circle cx="405" cy="346.4" r="3.35" fill="none" stroke="#ff0000" stroke-width="1.05"/>
<line x1="401.7" y1="346.4" x2="408.3" y2="346.4" stroke="#ff0000" stroke-width="0.8" stroke-opacity="0.5"/>
<line x1="405" y1="343.1" x2="405" y2="349.7" stroke="#ff0000" stroke-width="0.8" stroke-opacity="0.5"/>
<circle cx="416.8" cy="347.2" r="3.35" fill="none" stroke="#ff0000" stroke-width="1.05"/>
<line x1="413.5" y1="347.2" x2="420.1" y2="347.2" stroke="#ff0000" stroke-width="0.8" stroke-opacity="0.5"/>
<line x1="416.8" y1="343.9" x2="416.8" y2="350.5" stroke="#ff0000" stroke-width="0.8" stroke-opacity="0.5"/>
<circle cx="442.2" cy="344.2" r="3.35" fill="none" stroke="#ff0000" stroke-width="1.05"/>
<line x1="438.9" y1="344.2" x2="445.5" y2="344.2" stroke="#ff0000" stroke-width="0.8" stroke-opacity="0.5"/>
<line x1="442.2" y1="340.9" x2="442.2" y2="347.5" stroke="#ff0000" stroke-width="0.8" stroke-opacity="0.5"/>
<circle cx="408.7" cy="363.3" r="3.35" fill="none" stroke="#ff0000" stroke-width="1.05"/>
<line x1="405.4" y1="363.3" x2="412" y2="363.3" stroke="#ff0000" stroke-width="0.8" stroke-opacity="0.5"/>
<line x1="408.7" y1="360" x2="408.7" y2="366.6" stroke="#ff0000" stroke-width="0.8" stroke-opacity="0.5"/>
<circle cx="404" cy="369.8" r="3.35" fill="none" stroke="#ff0000" stroke-width="1.05"/>
<line x1="400.7" y1="369.8" x2="407.3" y2="369.8" stroke="#ff0000" stroke-width="0.8" stroke-opacity="0.5"/>
<line x1="404" y1="366.5" x2="404" y2="373.1" stroke="#ff0000" stroke-width="0.8" stroke-opacity="0.5"/>
<circle cx="409.2" cy="376.7" r="3.35" fill="none" stroke="#ff0000" stroke-width="1.05"/>
<line x1="405.9" y1="376.7" x2="412.5" y2="376.7" stroke="#ff0000" stroke-width="0.8" stroke-opacity="0.5"/>
<line x1="409.2" y1="373.4" x2="409.2" y2="380" stroke="#ff0000" stroke-width="0.8" stroke-opacity="0.5"/>
<circle cx="421.6" cy="367.5" r="3.35" fill="none" stroke="#ff0000" stroke-width="1.05"/>
<line x1="418.3" y1="367.5" x2="424.9" y2="367.5" stroke="#ff0000" stroke-width="0.8" stroke-opacity="0.5"/>
<line x1="421.6" y1="364.2" x2="421.6" y2="370.8" stroke="#ff0000" stroke-width="0.8" stroke-opacity="0.5"/>
<circle cx="434.4" cy="367.5" r="3.35" fill="none" stroke="#ff0000" stroke-width="1.05"/>
<line x1="431.1" y1="367.5" x2="437.7" y2="367.5" stroke="#ff0000" stroke-width="0.8" stroke-opacity="0.5"/>
<line x1="434.4" y1="364.2" x2="434.4" y2="370.8" stroke="#ff0000" stroke-width="0.8" stroke-opacity="0.5"/>
<circle cx="436.2" cy="369.4" r="3.35" fill="none" stroke="#ff0000" stroke-width="1.05"/>
<line x1="432.9" y1="369.4" x2="439.5" y2="369.4" stroke="#ff0000" stroke-width="0.8" stroke-opacity="0.5"/>
<line x1="436.2" y1="366.1" x2="436.2" y2="372.7" stroke="#ff0000" stroke-width="0.8" stroke-opacity="0.5"/>
<circle cx="454.5" cy="334" r="3.35" fill="none" stroke="#ff0000" stroke-width="1.05"/>
<line x1="451.2" y1="334" x2="457.8" y2="334" stroke="#ff0000" stroke-width="0.8" stroke-opacity="0.5"/>
<line x1="454.5" y1="330.7" x2="454.5" y2="337.3" stroke="#ff0000" stroke-width="0.8" stroke-opacity="0.5"/>
<circle cx="450.5" cy="352" r="3.35" fill="none" stroke="#ff0000" stroke-width="1.05"/>
<line x1="447.2" y1="352" x2="453.8" y2="352" stroke="#ff0000" stroke-width="0.8" stroke-opacity="0.5"/>
<line x1="450.5" y1="348.7" x2="450.5" y2="355.3" stroke="#ff0000" stroke-width="0.8" stroke-opacity="0.5"/>
<circle cx="454.9" cy="355.7" r="3.35" fill="none" stroke="#ff0000" stroke-width="1.05"/>
<line x1="451.6" y1="355.7" x2="458.2" y2="355.7" stroke="#ff0000" stroke-width="0.8" stroke-opacity="0.5"/>
<line x1="454.9" y1="352.4" x2="454.9" y2="359" stroke="#ff0000" stroke-width="0.8" stroke-opacity="0.5"/>
<circle cx="470.3" cy="366" r="3.35" fill="none" stroke="#ff0000" stroke-width="1.05"/>
<line x1="467" y1="366" x2="473.6" y2="366" stroke="#ff0000" stroke-width="0.8" stroke-opacity="0.5"/>
<line x1="470.3" y1="362.7" x2="470.3" y2="369.3" stroke="#ff0000" stroke-width="0.8" stroke-opacity="0.5"/>
<circle cx="496.3" cy="363.7" r="3.35" fill="none" stroke="#ff0000" stroke-width="1.05"/>
<line x1="493" y1="363.7" x2="499.6" y2="363.7" stroke="#ff0000" stroke-width="0.8" stroke-opacity="0.5"/>
<line x1="496.3" y1="360.4" x2="496.3" y2="367" stroke="#ff0000" stroke-width="0.8" stroke-opacity="0.5"/>
<circle cx="480" cy="381" r="3.35" fill="none" stroke="#ff0000" stroke-width="1.05"/>
<line x1="476.7" y1="381" x2="483.3" y2="381" stroke="#ff0000" stroke-width="0.8" stroke-opacity="0.5"/>
<line x1="480" y1="377.7" x2="480" y2="384.3" stroke="#ff0000" stroke-width="0.8" stroke-opacity="0.5"/>
<circle cx="475.8" cy="403.5" r="3.35" fill="none" stroke="#ff0000" stroke-width="1.05"/>
<line x1="472.5" y1="403.5" x2="479.1" y2="403.5" stroke="#ff0000" stroke-width="0.8" stroke-opacity="0.5"/>
<line x1="475.8" y1="400.2" x2="475.8" y2="406.8" stroke="#ff0000" stroke-width="0.8" stroke-opacity="0.5"/>
<circle cx="520.5" cy="293.7" r="3.35" fill="none" stroke="#ff0000" stroke-width="1.05"/>
<line x1="517.2" y1="293.7" x2="523.8" y2="293.7" stroke="#ff0000" stroke-width="0.8" stroke-opacity="0.5"/>
<line x1="520.5" y1="290.4" x2="520.5" y2="297" stroke="#ff0000" stroke-width="0.8" stroke-opacity="0.5"/>
<circle cx="537.3" cy="328.4" r="3.35" fill="none" stroke="#ff0000" stroke-width="1.05"/>
<line x1="534" y1="328.4" x2="540.6" y2="328.4" stroke="#ff0000" stroke-width="0.8" stroke-opacity="0.5"/>
<line x1="537.3" y1="325.1" x2="537.3" y2="331.7" stroke="#ff0000" stroke-width="0.8" stroke-opacity="0.5"/>
<polygon points="337.55,506 340.7,499.7 343.85,506" fill="none" stroke="#0000ff" stroke-width="1.1" stroke-linejoin="miter"/>
<line x1="338.5" y1="503.5" x2="342.9" y2="503.5" stroke="#0000ff" stroke-width="0.8" stroke-opacity="0.5"/>
<polygon points="356.45,466.7 359.6,460.4 362.75,466.7" fill="none" stroke="#0000ff" stroke-width="1.1" stroke-linejoin="miter"/>
<line x1="357.4" y1="464.2" x2="361.8" y2="464.2" stroke="#0000ff" stroke-width="0.8" stroke-opacity="0.5"/>
<polygon points="361.45,464.5 364.6,458.2 367.75,464.5" fill="none" stroke="#0000ff" stroke-width="1.1" stroke-linejoin="miter"/>
<line x1="362.4" y1="462" x2="366.8" y2="462" stroke="#0000ff" stroke-width="0.8" stroke-opacity="0.5"/>
<polygon points="364.75,479.5 367.9,473.2 371.05,479.5" fill="none" stroke="#0000ff" stroke-width="1.1" stroke-linejoin="miter"/>
<line x1="365.7" y1="477" x2="370.1" y2="477" stroke="#0000ff" stroke-width="0.8" stroke-opacity="0.5"/>
<polygon points="373.55,474.5 376.7,468.2 379.85,474.5" fill="none" stroke="#0000ff" stroke-width="1.1" stroke-linejoin="miter"/>
<line x1="374.5" y1="472" x2="378.9" y2="472" stroke="#0000ff" stroke-width="0.8" stroke-opacity="0.5"/>
<polygon points="379.55,481 382.7,474.7 385.85,481" fill="none" stroke="#0000ff" stroke-width="1.1" stroke-linejoin="miter"/>
<line x1="380.5" y1="478.5" x2="384.9" y2="478.5" stroke="#0000ff" stroke-width="0.8" stroke-opacity="0.5"/>
<polygon points="381.45,464.7 384.6,458.4 387.75,464.7" fill="none" stroke="#0000ff" stroke-width="1.1" stroke-linejoin="miter"/>
<line x1="382.4" y1="462.2" x2="386.8" y2="462.2" stroke="#0000ff" stroke-width="0.8" stroke-opacity="0.5"/>
<polygon points="384.95,454.5 388.1,448.2 391.25,454.5" fill="none" stroke="#0000ff" stroke-width="1.1" stroke-linejoin="miter"/>
<line x1="385.9" y1="452" x2="390.3" y2="452" stroke="#0000ff" stroke-width="0.8" stroke-opacity="0.5"/>
<polygon points="390.45,463.8 393.6,457.5 396.75,463.8" fill="none" stroke="#0000ff" stroke-width="1.1" stroke-linejoin="miter"/>
<line x1="391.4" y1="461.3" x2="395.8" y2="461.3" stroke="#0000ff" stroke-width="0.8" stroke-opacity="0.5"/>
<polygon points="398.05,454.7 401.2,448.4 404.35,454.7" fill="none" stroke="#0000ff" stroke-width="1.1" stroke-linejoin="miter"/>
<line x1="399" y1="452.2" x2="403.4" y2="452.2" stroke="#0000ff" stroke-width="0.8" stroke-opacity="0.5"/>
<polygon points="399.25,463.8 402.4,457.5 405.55,463.8" fill="none" stroke="#0000ff" stroke-width="1.1" stroke-linejoin="miter"/>
<line x1="400.2" y1="461.3" x2="404.6" y2="461.3" stroke="#0000ff" stroke-width="0.8" stroke-opacity="0.5"/>
<polygon points="400.75,465.3 403.9,459 407.05,465.3" fill="none" stroke="#0000ff" stroke-width="1.1" stroke-linejoin="miter"/>
<line x1="401.7" y1="462.8" x2="406.1" y2="462.8" stroke="#0000ff" stroke-width="0.8" stroke-opacity="0.5"/>
<polygon points="402.25,470.3 405.4,464 408.55,470.3" fill="none" stroke="#0000ff" stroke-width="1.1" stroke-linejoin="miter"/>
<line x1="403.2" y1="467.8" x2="407.6" y2="467.8" stroke="#0000ff" stroke-width="0.8" stroke-opacity="0.5"/>
<polygon points="401.85,479.5 405,473.2 408.15,479.5" fill="none" stroke="#0000ff" stroke-width="1.1" stroke-linejoin="miter"/>
<line x1="402.8" y1="477" x2="407.2" y2="477" stroke="#0000ff" stroke-width="0.8" stroke-opacity="0.5"/>
<polygon points="406.15,455.6 409.3,449.3 412.45,455.6" fill="none" stroke="#0000ff" stroke-width="1.1" stroke-linejoin="miter"/>
<line x1="407.1" y1="453.1" x2="411.5" y2="453.1" stroke="#0000ff" stroke-width="0.8" stroke-opacity="0.5"/>
<polygon points="406.55,457.1 409.7,450.8 412.85,457.1" fill="none" stroke="#0000ff" stroke-width="1.1" stroke-linejoin="miter"/>
<line x1="407.5" y1="454.6" x2="411.9" y2="454.6" stroke="#0000ff" stroke-width="0.8" stroke-opacity="0.5"/>
<polygon points="413.55,471.3 416.7,465 419.85,471.3" fill="none" stroke="#0000ff" stroke-width="1.1" stroke-linejoin="miter"/>
<line x1="414.5" y1="468.8" x2="418.9" y2="468.8" stroke="#0000ff" stroke-width="0.8" stroke-opacity="0.5"/>
<polygon points="392.55,464.7 395.7,458.4 398.85,464.7" fill="none" stroke="#0000ff" stroke-width="1.1" stroke-linejoin="miter"/>
<line x1="393.5" y1="462.2" x2="397.9" y2="462.2" stroke="#0000ff" stroke-width="0.8" stroke-opacity="0.5"/>
<polygon points="400.15,441.8 403.3,435.5 406.45,441.8" fill="none" stroke="#0000ff" stroke-width="1.1" stroke-linejoin="miter"/>
<line x1="401.1" y1="439.3" x2="405.5" y2="439.3" stroke="#0000ff" stroke-width="0.8" stroke-opacity="0.5"/>
<polygon points="405.75,440.1 408.9,433.8 412.05,440.1" fill="none" stroke="#0000ff" stroke-width="1.1" stroke-linejoin="miter"/>
<line x1="406.7" y1="437.6" x2="411.1" y2="437.6" stroke="#0000ff" stroke-width="0.8" stroke-opacity="0.5"/>
<polygon points="413.95,441.8 417.1,435.5 420.25,441.8" fill="none" stroke="#0000ff" stroke-width="1.1" stroke-linejoin="miter"/>
<line x1="414.9" y1="439.3" x2="419.3" y2="439.3" stroke="#0000ff" stroke-width="0.8" stroke-opacity="0.5"/>
<polygon points="417.45,443.5 420.6,437.2 423.75,443.5" fill="none" stroke="#0000ff" stroke-width="1.1" stroke-linejoin="miter"/>
<line x1="418.4" y1="441" x2="422.8" y2="441" stroke="#0000ff" stroke-width="0.8" stroke-opacity="0.5"/>
<polygon points="418.95,442 422.1,435.7 425.25,442" fill="none" stroke="#0000ff" stroke-width="1.1" stroke-linejoin="miter"/>
<line x1="419.9" y1="439.5" x2="424.3" y2="439.5" stroke="#0000ff" stroke-width="0.8" stroke-opacity="0.5"/>
<polygon points="418.25,446.4 421.4,440.1 424.55,446.4" fill="none" stroke="#0000ff" stroke-width="1.1" stroke-linejoin="miter"/>
<line x1="419.2" y1="443.9" x2="423.6" y2="443.9" stroke="#0000ff" stroke-width="0.8" stroke-opacity="0.5"/>
<polygon points="431.15,443.5 434.3,437.2 437.45,443.5" fill="none" stroke="#0000ff" stroke-width="1.1" stroke-linejoin="miter"/>
<line x1="432.1" y1="441" x2="436.5" y2="441" stroke="#0000ff" stroke-width="0.8" stroke-opacity="0.5"/>
<polygon points="370.25,420.9 373.4,414.6 376.55,420.9" fill="none" stroke="#0000ff" stroke-width="1.1" stroke-linejoin="miter"/>
<line x1="371.2" y1="418.4" x2="375.6" y2="418.4" stroke="#0000ff" stroke-width="0.8" stroke-opacity="0.5"/>
<polygon points="375.05,438.2 378.2,431.9 381.35,438.2" fill="none" stroke="#0000ff" stroke-width="1.1" stroke-linejoin="miter"/>
<line x1="376" y1="435.7" x2="380.4" y2="435.7" stroke="#0000ff" stroke-width="0.8" stroke-opacity="0.5"/>
<polygon points="437.25,380.3 440.4,374 443.55,380.3" fill="none" stroke="#0000ff" stroke-width="1.1" stroke-linejoin="miter"/>
<line x1="438.2" y1="377.8" x2="442.6" y2="377.8" stroke="#0000ff" stroke-width="0.8" stroke-opacity="0.5"/>
<polygon points="427.15,404.5 430.3,398.2 433.45,404.5" fill="none" stroke="#0000ff" stroke-width="1.1" stroke-linejoin="miter"/>
<line x1="428.1" y1="402" x2="432.5" y2="402" stroke="#0000ff" stroke-width="0.8" stroke-opacity="0.5"/>
<polygon points="439.05,402.6 442.2,396.3 445.35,402.6" fill="none" stroke="#0000ff" stroke-width="1.1" stroke-linejoin="miter"/>
<line x1="440" y1="400.1" x2="444.4" y2="400.1" stroke="#0000ff" stroke-width="0.8" stroke-opacity="0.5"/>
<polygon points="433.15,414.4 436.3,408.1 439.45,414.4" fill="none" stroke="#0000ff" stroke-width="1.1" stroke-linejoin="miter"/>
<line x1="434.1" y1="411.9" x2="438.5" y2="411.9" stroke="#0000ff" stroke-width="0.8" stroke-opacity="0.5"/>
<polygon points="451.05,392.3 454.2,386 457.35,392.3" fill="none" stroke="#0000ff" stroke-width="1.1" stroke-linejoin="miter"/>
<line x1="452" y1="389.8" x2="456.4" y2="389.8" stroke="#0000ff" stroke-width="0.8" stroke-opacity="0.5"/>
<polygon points="451.45,405.8 454.6,399.5 457.75,405.8" fill="none" stroke="#0000ff" stroke-width="1.1" stroke-linejoin="miter"/>
<line x1="452.4" y1="403.3" x2="456.8" y2="403.3" stroke="#0000ff" stroke-width="0.8" stroke-opacity="0.5"/>
<polygon points="446.95,410.3 450.1,404 453.25,410.3" fill="none" stroke="#0000ff" stroke-width="1.1" stroke-linejoin="miter"/>
<line x1="447.9" y1="407.8" x2="452.3" y2="407.8" stroke="#0000ff" stroke-width="0.8" stroke-opacity="0.5"/>
<polygon points="471.05,382.7 474.2,376.4 477.35,382.7" fill="none" stroke="#0000ff" stroke-width="1.1" stroke-linejoin="miter"/>
<line x1="472" y1="380.2" x2="476.4" y2="380.2" stroke="#0000ff" stroke-width="0.8" stroke-opacity="0.5"/>
<polygon points="471.85,383.6 475,377.3 478.15,383.6" fill="none" stroke="#0000ff" stroke-width="1.1" stroke-linejoin="miter"/>
<line x1="472.8" y1="381.1" x2="477.2" y2="381.1" stroke="#0000ff" stroke-width="0.8" stroke-opacity="0.5"/>
<polygon points="493.15,376.9 496.3,370.6 499.45,376.9" fill="none" stroke="#0000ff" stroke-width="1.1" stroke-linejoin="miter"/>
<line x1="494.1" y1="374.4" x2="498.5" y2="374.4" stroke="#0000ff" stroke-width="0.8" stroke-opacity="0.5"/>
<polygon points="467.45,309.3 470.6,303 473.75,309.3" fill="none" stroke="#0000ff" stroke-width="1.1" stroke-linejoin="miter"/>
<line x1="468.4" y1="306.8" x2="472.8" y2="306.8" stroke="#0000ff" stroke-width="0.8" stroke-opacity="0.5"/>
<polygon points="476.65,343.6 479.8,337.3 482.95,343.6" fill="none" stroke="#0000ff" stroke-width="1.1" stroke-linejoin="miter"/>
<line x1="477.6" y1="341.1" x2="482" y2="341.1" stroke="#0000ff" stroke-width="0.8" stroke-opacity="0.5"/>
<polygon points="517.35,354.6 520.5,348.3 523.65,354.6" fill="none" stroke="#0000ff" stroke-width="1.1" stroke-linejoin="miter"/>
<line x1="518.3" y1="352.1" x2="522.7" y2="352.1" stroke="#0000ff" stroke-width="0.8" stroke-opacity="0.5"/>
<polygon points="534.55,427.3 537.7,421 540.85,427.3" fill="none" stroke="#0000ff" stroke-width="1.1" stroke-linejoin="miter"/>
<line x1="535.5" y1="424.8" x2="539.9" y2="424.8" stroke="#0000ff" stroke-width="0.8" stroke-opacity="0.5"/>
<polygon points="472.65,438.9 475.8,432.6 478.95,438.9" fill="none" stroke="#0000ff" stroke-width="1.1" stroke-linejoin="miter"/>
<line x1="473.6" y1="436.4" x2="478" y2="436.4" stroke="#0000ff" stroke-width="0.8" stroke-opacity="0.5"/>
</g>
<rect x="42.35" y="2.05" width="225.95" height="225.55" fill="none" stroke="#3a3a3a" stroke-width="1.3"/>
<rect x="330.85" y="2.1" width="225.85" height="225.6" fill="none" stroke="#3a3a3a" stroke-width="1.3"/>
<rect x="42.4" y="278.9" width="225.8" height="225.7" fill="none" stroke="#3a3a3a" stroke-width="1.3"/>
<rect x="330.85" y="278.9" width="225.85" height="225.75" fill="none" stroke="#3a3a3a" stroke-width="1.3"/>
<text x="78.66" y="261" font-size="14.3" font-family='"Liberation Sans", sans-serif' fill="#000" textLength="53.64" lengthAdjust="spacingAndGlyphs">O-Band</text>
<text x="135.72" y="261" font-size="14.3" font-family='"Liberation Sans", sans-serif' fill="#000" textLength="71.82" lengthAdjust="spacingAndGlyphs">Parameter-</text>
<text x="209.67" y="261" font-size="13" font-family='"Liberation Sans", sans-serif' fill="#000" textLength="5.07" lengthAdjust="spacingAndGlyphs">γ</text>
<text x="215.44" y="267.4" font-size="10.2" font-family='"Liberation Sans", sans-serif' fill="#000" textLength="4.66" lengthAdjust="spacingAndGlyphs">a</text>
<text x="371.85" y="261.8" font-size="14.3" font-family='"Liberation Sans", sans-serif' fill="#000" textLength="51.06" lengthAdjust="spacingAndGlyphs">O-Band</text>
<text x="428.89" y="261.8" font-size="14.3" font-family='"Liberation Sans", sans-serif' fill="#000" textLength="70.53" lengthAdjust="spacingAndGlyphs">Parameter-</text>
<text x="501.26" y="261.8" font-size="13" font-family='"Liberation Sans", sans-serif' fill="#000" textLength="5.73" lengthAdjust="spacingAndGlyphs">γ</text>
<text x="508.08" y="268.3" font-size="10.3" font-family='"Liberation Sans", sans-serif' fill="#000" textLength="6.18" lengthAdjust="spacingAndGlyphs">b</text>
<text x="117.64" y="541" font-size="13.6" font-family='"Liberation Serif", serif' fill="#000" textLength="13.55" lengthAdjust="spacingAndGlyphs">O:</text>
<text x="134.96" y="541" font-size="13" font-family='"Liberation Sans", sans-serif' fill="#000" textLength="5.27" lengthAdjust="spacingAndGlyphs">γ</text>
<text x="140.7" y="545.6" font-size="10" font-family='"Liberation Sans", sans-serif' fill="#000" textLength="5.19" lengthAdjust="spacingAndGlyphs">b</text>
<text x="148.13" y="541" font-size="13.6" font-family='"Liberation Sans", sans-serif' fill="#000" textLength="3.55" lengthAdjust="spacingAndGlyphs">-</text>
<text x="152.86" y="541" font-size="13" font-family='"Liberation Sans", sans-serif' fill="#000" textLength="5.27" lengthAdjust="spacingAndGlyphs">γ</text>
<text x="159.25" y="545.6" font-size="10" font-family='"Liberation Sans", sans-serif' fill="#000" textLength="4.55" lengthAdjust="spacingAndGlyphs">a</text>
<text x="340.03" y="540.2" font-size="14" font-family='"Liberation Sans", sans-serif' fill="#000" textLength="47.83" lengthAdjust="spacingAndGlyphs">O Band</text>
<text x="392.66" y="540.2" font-size="14" font-family='"Liberation Sans", sans-serif' fill="#000" textLength="65.02" lengthAdjust="spacingAndGlyphs">Parameter</text>
<text x="463.09" y="540.2" font-size="14" font-family='"Liberation Sans", sans-serif' fill="#000" textLength="7.81" lengthAdjust="spacingAndGlyphs">E</text>
<text x="472.48" y="544.9" font-size="13.5" font-family='"Liberation Sans", sans-serif' fill="#000" textLength="8.27" lengthAdjust="spacingAndGlyphs">B</text>
<text x="485.83" y="540.2" font-size="14" font-family='"Liberation Sans", sans-serif' fill="#000" textLength="45.08" lengthAdjust="spacingAndGlyphs">(MeV n</text>
<text x="532.09" y="537.3" font-size="11.5" font-family='"Liberation Sans", sans-serif' fill="#000" textLength="8.16" lengthAdjust="spacingAndGlyphs">-1</text>
<text x="542.04" y="540.2" font-size="14" font-family='"Liberation Sans", sans-serif' fill="#000" textLength="3.64" lengthAdjust="spacingAndGlyphs">)</text>
<text transform="translate(10.6 546) rotate(-90)" x="349.98" y="0" font-size="14.3" font-family='"Liberation Sans", sans-serif' fill="#000" textLength="154.48" lengthAdjust="spacingAndGlyphs">H, Fe-Band Parameter-</text>
<text transform="translate(10.6 546) rotate(-90)" x="505.76" y="0" font-size="13" font-family='"Liberation Sans", sans-serif' fill="#000" textLength="5.37" lengthAdjust="spacingAndGlyphs">γ</text>
<text transform="translate(17 546) rotate(-90)" x="512.05" y="0" font-size="10.2" font-family='"Liberation Sans", sans-serif' fill="#000" textLength="4.55" lengthAdjust="spacingAndGlyphs">a</text>
<text transform="translate(295.4 546) rotate(-90)" x="346.29" y="0" font-size="14.3" font-family='"Liberation Sans", sans-serif' fill="#000" textLength="162.07" lengthAdjust="spacingAndGlyphs">H, Fe - Band Parameter-</text>
<text transform="translate(295.4 546) rotate(-90)" x="509.77" y="0" font-size="13" font-family='"Liberation Sans", sans-serif' fill="#000" textLength="4.97" lengthAdjust="spacingAndGlyphs">γ</text>
<text transform="translate(301.4 546) rotate(-90)" x="515.06" y="0" font-size="10.3" font-family='"Liberation Sans", sans-serif' fill="#000" textLength="5.57" lengthAdjust="spacingAndGlyphs">b</text>
<text transform="translate(12.5 546) rotate(-90)" x="112.23" y="0" font-size="14.3" font-family='"Liberation Sans", sans-serif' fill="#000" textLength="38.77" lengthAdjust="spacingAndGlyphs">H, Fe:</text>
<text transform="translate(12.5 546) rotate(-90)" x="156.27" y="0" font-size="13" font-family='"Liberation Sans", sans-serif' fill="#000" textLength="4.87" lengthAdjust="spacingAndGlyphs">γ</text>
<text transform="translate(15.8 546) rotate(-90)" x="161.81" y="0" font-size="10" font-family='"Liberation Sans", sans-serif' fill="#000" textLength="5.94" lengthAdjust="spacingAndGlyphs">b</text>
<text transform="translate(12.5 546) rotate(-90)" x="169.75" y="0" font-size="14.3" font-family='"Liberation Sans", sans-serif' fill="#000" textLength="4.09" lengthAdjust="spacingAndGlyphs">-</text>
<text transform="translate(12.5 546) rotate(-90)" x="174.86" y="0" font-size="13" font-family='"Liberation Sans", sans-serif' fill="#000" textLength="5.88" lengthAdjust="spacingAndGlyphs">γ</text>
<text transform="translate(15.8 546) rotate(-90)" x="181.67" y="0" font-size="10" font-family='"Liberation Sans", sans-serif' fill="#000" textLength="4.33" lengthAdjust="spacingAndGlyphs">a</text>
<text transform="translate(297.4 546) rotate(-90)" x="82.29" y="0" font-size="14" font-family='"Liberation Sans", sans-serif' fill="#000" textLength="44.42" lengthAdjust="spacingAndGlyphs">H, Fe –</text>
<text transform="translate(297.4 546) rotate(-90)" x="129.55" y="0" font-size="14" font-family='"Liberation Sans", sans-serif' fill="#000" textLength="10.95" lengthAdjust="spacingAndGlyphs">E</text>
<text transform="translate(301 546) rotate(-90)" x="140.64" y="0" font-size="13.5" font-family='"Liberation Sans", sans-serif' fill="#000" textLength="10.28" lengthAdjust="spacingAndGlyphs">B</text>
<text transform="translate(297.4 546) rotate(-90)" x="152.76" y="0" font-size="14" font-family='"Liberation Sans", sans-serif' fill="#000" textLength="43.41" lengthAdjust="spacingAndGlyphs">(MeV n</text>
<text transform="translate(294.2 546) rotate(-90)" x="197.44" y="0" font-size="11.5" font-family='"Liberation Sans", sans-serif' fill="#000" textLength="9.27" lengthAdjust="spacingAndGlyphs">-1</text>
<text transform="translate(297.4 546) rotate(-90)" x="209.29" y="0" font-size="14" font-family='"Liberation Sans", sans-serif' fill="#000" textLength="6.53" lengthAdjust="spacingAndGlyphs">)</text>
<text x="42.35" y="245.9" text-anchor="middle" class="tk">0</text>
<text x="98.84" y="245.9" text-anchor="middle" class="tk">1</text>
<text x="155.33" y="245.9" text-anchor="middle" class="tk">2</text>
<text x="211.81" y="245.9" text-anchor="middle" class="tk">3</text>
<text x="268.3" y="245.9" text-anchor="middle" class="tk">4</text>
<text x="38.8" y="228.2" text-anchor="end" class="tk">0</text>
<text x="38.8" y="176.21" text-anchor="end" class="tk">1</text>
<text x="38.8" y="119.83" text-anchor="end" class="tk">2</text>
<text x="38.8" y="63.44" text-anchor="end" class="tk">3</text>
<text x="38.8" y="10.15" text-anchor="end" class="tk">4</text>
<text x="330.85" y="245.4" text-anchor="middle" class="tk">0</text>
<text x="359.08" y="245.4" text-anchor="middle" class="tk">1</text>
<text x="387.31" y="245.4" text-anchor="middle" class="tk">2</text>
<text x="415.54" y="245.4" text-anchor="middle" class="tk">3</text>
<text x="443.78" y="245.4" text-anchor="middle" class="tk">4</text>
<text x="472.01" y="245.4" text-anchor="middle" class="tk">5</text>
<text x="500.24" y="245.4" text-anchor="middle" class="tk">6</text>
<text x="528.47" y="245.4" text-anchor="middle" class="tk">7</text>
<text x="556.7" y="245.4" text-anchor="middle" class="tk">8</text>
<text x="327.8" y="228.3" text-anchor="end" class="tk">0</text>
<text x="327.8" y="204.5" text-anchor="end" class="tk">1</text>
<text x="327.8" y="176.3" text-anchor="end" class="tk">2</text>
<text x="327.8" y="148.1" text-anchor="end" class="tk">3</text>
<text x="327.8" y="119.9" text-anchor="end" class="tk">4</text>
<text x="327.8" y="91.7" text-anchor="end" class="tk">5</text>
<text x="327.8" y="63.5" text-anchor="end" class="tk">6</text>
<text x="327.8" y="35.3" text-anchor="end" class="tk">7</text>
<text x="327.8" y="10.2" text-anchor="end" class="tk">8</text>
<text x="42.4" y="522.6" text-anchor="middle" class="tk">0</text>
<text x="70.62" y="522.6" text-anchor="middle" class="tk">1</text>
<text x="98.85" y="522.6" text-anchor="middle" class="tk">2</text>
<text x="127.07" y="522.6" text-anchor="middle" class="tk">3</text>
<text x="155.3" y="522.6" text-anchor="middle" class="tk">4</text>
<text x="183.53" y="522.6" text-anchor="middle" class="tk">5</text>
<text x="211.75" y="522.6" text-anchor="middle" class="tk">6</text>
<text x="239.97" y="522.6" text-anchor="middle" class="tk">7</text>
<text x="268.2" y="522.6" text-anchor="middle" class="tk">8</text>
<text x="38.8" y="505.2" text-anchor="end" class="tk">0</text>
<text x="38.8" y="481.39" text-anchor="end" class="tk">1</text>
<text x="38.8" y="453.18" text-anchor="end" class="tk">2</text>
<text x="38.8" y="424.96" text-anchor="end" class="tk">3</text>
<text x="38.8" y="396.75" text-anchor="end" class="tk">4</text>
<text x="38.8" y="368.54" text-anchor="end" class="tk">5</text>
<text x="38.8" y="340.32" text-anchor="end" class="tk">6</text>
<text x="38.8" y="312.11" text-anchor="end" class="tk">7</text>
<text x="38.8" y="287" text-anchor="end" class="tk">8</text>
<text x="330.85" y="523" text-anchor="middle" class="tk">10<tspan font-size="8.5" dy="-6">−1</tspan></text>
<text x="399.27" y="523" text-anchor="middle" class="tk">10<tspan font-size="8.5" dy="-6">0</tspan></text>
<text x="467.69" y="523" text-anchor="middle" class="tk">10<tspan font-size="8.5" dy="-6">1</tspan></text>
<text x="536.1" y="523" text-anchor="middle" class="tk">10<tspan font-size="8.5" dy="-6">2</tspan></text>
<text x="327" y="503.6" text-anchor="end" class="tk">10<tspan font-size="8.5" dy="-6">−1</tspan></text>
<text x="327" y="440.46" text-anchor="end" class="tk">10<tspan font-size="8.5" dy="-6">0</tspan></text>
<text x="327" y="372.07" text-anchor="end" class="tk">10<tspan font-size="8.5" dy="-6">1</tspan></text>
<text x="327" y="303.69" text-anchor="end" class="tk">10<tspan font-size="8.5" dy="-6">2</tspan></text>
<text x="47.28" y="22.5" font-size="20.3" font-family='"Liberation Sans", sans-serif' fill="#000" textLength="20.03" lengthAdjust="spacingAndGlyphs">(a)</text>
<text x="338.78" y="22.4" font-size="20.3" font-family='"Liberation Sans", sans-serif' fill="#000" textLength="20.14" lengthAdjust="spacingAndGlyphs">(b)</text>
<text x="47.29" y="300.3" font-size="20.3" font-family='"Liberation Sans", sans-serif' fill="#000" textLength="19.02" lengthAdjust="spacingAndGlyphs">(c)</text>
<text x="339.01" y="300.3" font-size="20.3" font-family='"Liberation Sans", sans-serif' fill="#000" textLength="19.48" lengthAdjust="spacingAndGlyphs">(d)</text>
<circle cx="216.1" cy="194.6" r="3.4" fill="none" stroke="#ff0000" stroke-width="1.05"/>
<polygon points="212.8,212.2 216.1,205.7 219.4,212.2" fill="none" stroke="#0000ff" stroke-width="1.1"/>
<text x="225.94" y="197.4" font-size="9" font-family='"Liberation Sans", sans-serif' fill="#1a1a1a" textLength="29.71" lengthAdjust="spacingAndGlyphs">H, N=43</text>
<text x="226.24" y="211.7" font-size="9" font-family='"Liberation Sans", sans-serif' fill="#1a1a1a" textLength="33.37" lengthAdjust="spacingAndGlyphs">Fe, N=42</text>
<circle cx="348" cy="57.5" r="3.4" fill="none" stroke="#ff0000" stroke-width="1.05"/>
<polygon points="344.7,74.7 348,68.2 351.3,74.7" fill="none" stroke="#0000ff" stroke-width="1.1"/>
<text x="357.63" y="60.3" font-size="9" font-family='"Liberation Sans", sans-serif' fill="#1a1a1a" textLength="30.26" lengthAdjust="spacingAndGlyphs">H, N=29</text>
<text x="357.82" y="74.3" font-size="9" font-family='"Liberation Sans", sans-serif' fill="#1a1a1a" textLength="34.24" lengthAdjust="spacingAndGlyphs">Fe, N=38</text>
<circle cx="215.2" cy="477.5" r="3.4" fill="none" stroke="#ff0000" stroke-width="1.05"/>
<polygon points="211.9,494.7 215.2,488.2 218.5,494.7" fill="none" stroke="#0000ff" stroke-width="1.1"/>
<text x="224.83" y="480.3" font-size="9" font-family='"Liberation Sans", sans-serif' fill="#1a1a1a" textLength="30.28" lengthAdjust="spacingAndGlyphs">H, N=27</text>
<text x="225.14" y="494.6" font-size="9" font-family='"Liberation Sans", sans-serif' fill="#1a1a1a" textLength="33.3" lengthAdjust="spacingAndGlyphs">Fe, N=34</text>
<circle cx="506.5" cy="476.7" r="3.4" fill="none" stroke="#ff0000" stroke-width="1.05"/>
<polygon points="503.2,494 506.5,487.5 509.8,494" fill="none" stroke="#0000ff" stroke-width="1.1"/>
<text x="516.13" y="479.8" font-size="9" font-family='"Liberation Sans", sans-serif' fill="#1a1a1a" textLength="30.4" lengthAdjust="spacingAndGlyphs">H, N=40</text>
<text x="516.43" y="493.8" font-size="9" font-family='"Liberation Sans", sans-serif' fill="#1a1a1a" textLength="33.79" lengthAdjust="spacingAndGlyphs">Fe, N=40</text>
</svg>
</body></html>
